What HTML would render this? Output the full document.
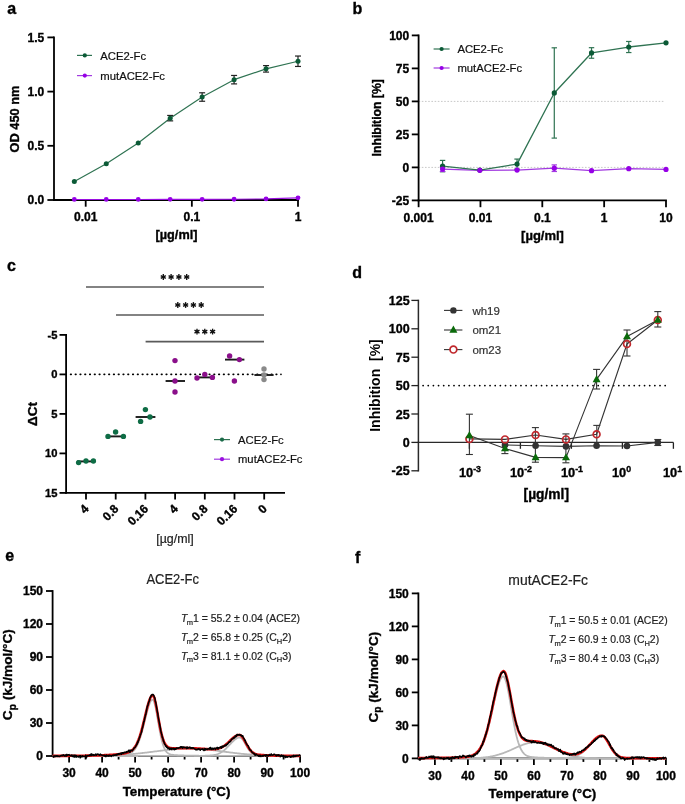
<!DOCTYPE html>
<html><head><meta charset="utf-8"><title>Figure</title>
<style>
html,body{margin:0;padding:0;background:#fff;overflow:hidden;}
svg{display:block;font-family:"Liberation Sans",sans-serif;filter:blur(0.3px);}
text[font-weight="bold"]{stroke:#000;stroke-width:0.35px;}
text[fill="#222"]{stroke:#222;stroke-width:0.2px;}
text[fill="#111"]{stroke:#111;stroke-width:0.2px;}
text[fill="#333"]{stroke:#333;stroke-width:0.2px;}
</style></head><body>
<svg width="685" height="804" viewBox="0 0 685 804">
<rect x="0" y="0" width="685" height="804" fill="#fff"/>
<text x="7.30" y="14.20" font-size="16" font-weight="bold" text-anchor="start" fill="#000"  style="">a</text>
<line x1="54.00" y1="36.50" x2="54.00" y2="200.90" stroke="#000" stroke-width="1.8" />
<line x1="53.10" y1="200.00" x2="298.90" y2="200.00" stroke="#000" stroke-width="1.8" />
<line x1="47.40" y1="37.40" x2="54.00" y2="37.40" stroke="#000" stroke-width="1.8" />
<text x="44.20" y="41.70" font-size="12" font-weight="bold" text-anchor="end" fill="#000"  style="">1.5</text>
<line x1="47.40" y1="91.60" x2="54.00" y2="91.60" stroke="#000" stroke-width="1.8" />
<text x="44.20" y="95.90" font-size="12" font-weight="bold" text-anchor="end" fill="#000"  style="">1.0</text>
<line x1="47.40" y1="145.80" x2="54.00" y2="145.80" stroke="#000" stroke-width="1.8" />
<text x="44.20" y="150.10" font-size="12" font-weight="bold" text-anchor="end" fill="#000"  style="">0.5</text>
<line x1="47.40" y1="200.00" x2="54.00" y2="200.00" stroke="#000" stroke-width="1.8" />
<text x="44.20" y="204.30" font-size="12" font-weight="bold" text-anchor="end" fill="#000"  style="">0.0</text>
<line x1="85.70" y1="200.00" x2="85.70" y2="206.70" stroke="#000" stroke-width="1.8" />
<text x="85.70" y="221.00" font-size="12" font-weight="bold" text-anchor="middle" fill="#000"  style="">0.01</text>
<line x1="191.85" y1="200.00" x2="191.85" y2="206.70" stroke="#000" stroke-width="1.8" />
<text x="191.85" y="221.00" font-size="12" font-weight="bold" text-anchor="middle" fill="#000"  style="">0.1</text>
<line x1="298.00" y1="200.00" x2="298.00" y2="206.70" stroke="#000" stroke-width="1.8" />
<text x="298.00" y="221.00" font-size="12" font-weight="bold" text-anchor="middle" fill="#000"  style="">1</text>
<text x="176.50" y="239.20" font-size="12.7" font-weight="bold" text-anchor="middle" fill="#000"  style="">[µg/ml]</text>
<text transform="translate(19.40,119.00) rotate(-90)" x="0" y="0" font-size="12.8" font-weight="bold" text-anchor="middle" fill="#000">OD 450 nm</text>
<polyline points="74.32,199.46 106.27,199.46 138.23,199.46 170.18,199.35 202.14,199.35 234.09,199.24 266.05,198.92 298.00,197.83" fill="none" stroke="#9a10e0" stroke-width="1.1" stroke-linejoin="round" />
<polyline points="74.32,181.57 106.27,163.69 138.23,143.09 170.18,118.16 202.14,97.02 234.09,79.68 266.05,68.84 298.00,61.25" fill="none" stroke="#2f7352" stroke-width="1.2" stroke-linejoin="round" />
<line x1="170.18" y1="115.45" x2="170.18" y2="120.87" stroke="#222" stroke-width="1.2" />
<line x1="167.18" y1="115.45" x2="173.18" y2="115.45" stroke="#222" stroke-width="1.2" />
<line x1="167.18" y1="120.87" x2="173.18" y2="120.87" stroke="#222" stroke-width="1.2" />
<line x1="202.14" y1="92.79" x2="202.14" y2="101.25" stroke="#222" stroke-width="1.2" />
<line x1="199.14" y1="92.79" x2="205.14" y2="92.79" stroke="#222" stroke-width="1.2" />
<line x1="199.14" y1="101.25" x2="205.14" y2="101.25" stroke="#222" stroke-width="1.2" />
<line x1="234.09" y1="75.45" x2="234.09" y2="83.90" stroke="#222" stroke-width="1.2" />
<line x1="231.09" y1="75.45" x2="237.09" y2="75.45" stroke="#222" stroke-width="1.2" />
<line x1="231.09" y1="83.90" x2="237.09" y2="83.90" stroke="#222" stroke-width="1.2" />
<line x1="266.05" y1="65.58" x2="266.05" y2="72.09" stroke="#222" stroke-width="1.2" />
<line x1="263.05" y1="65.58" x2="269.05" y2="65.58" stroke="#222" stroke-width="1.2" />
<line x1="263.05" y1="72.09" x2="269.05" y2="72.09" stroke="#222" stroke-width="1.2" />
<line x1="298.00" y1="56.04" x2="298.00" y2="66.45" stroke="#222" stroke-width="1.2" />
<line x1="295.00" y1="56.04" x2="301.00" y2="56.04" stroke="#222" stroke-width="1.2" />
<line x1="295.00" y1="66.45" x2="301.00" y2="66.45" stroke="#222" stroke-width="1.2" />
<circle cx="74.32" cy="181.57" r="2.5" fill="#0b5a36" stroke="none" stroke-width="0"/>
<circle cx="106.27" cy="163.69" r="2.5" fill="#0b5a36" stroke="none" stroke-width="0"/>
<circle cx="138.23" cy="143.09" r="2.5" fill="#0b5a36" stroke="none" stroke-width="0"/>
<circle cx="170.18" cy="118.16" r="2.5" fill="#0b5a36" stroke="none" stroke-width="0"/>
<circle cx="202.14" cy="97.02" r="2.5" fill="#0b5a36" stroke="none" stroke-width="0"/>
<circle cx="234.09" cy="79.68" r="2.5" fill="#0b5a36" stroke="none" stroke-width="0"/>
<circle cx="266.05" cy="68.84" r="2.5" fill="#0b5a36" stroke="none" stroke-width="0"/>
<circle cx="298.00" cy="61.25" r="2.5" fill="#0b5a36" stroke="none" stroke-width="0"/>
<circle cx="74.32" cy="199.46" r="2.4" fill="#9600e6" stroke="none" stroke-width="0"/>
<circle cx="106.27" cy="199.46" r="2.4" fill="#9600e6" stroke="none" stroke-width="0"/>
<circle cx="138.23" cy="199.46" r="2.4" fill="#9600e6" stroke="none" stroke-width="0"/>
<circle cx="170.18" cy="199.35" r="2.4" fill="#9600e6" stroke="none" stroke-width="0"/>
<circle cx="202.14" cy="199.35" r="2.4" fill="#9600e6" stroke="none" stroke-width="0"/>
<circle cx="234.09" cy="199.24" r="2.4" fill="#9600e6" stroke="none" stroke-width="0"/>
<circle cx="266.05" cy="198.92" r="2.4" fill="#9600e6" stroke="none" stroke-width="0"/>
<circle cx="298.00" cy="197.83" r="2.4" fill="#9600e6" stroke="none" stroke-width="0"/>
<line x1="77.00" y1="55.40" x2="92.00" y2="55.40" stroke="#2f7352" stroke-width="1.2" />
<circle cx="84.80" cy="55.40" r="2.1" fill="#0b5a36" stroke="none" stroke-width="0"/>
<text x="100.30" y="59.70" font-size="11.3" font-weight="normal" text-anchor="start" fill="#111"  style="">ACE2-Fc</text>
<line x1="77.00" y1="75.60" x2="92.00" y2="75.60" stroke="#a23be0" stroke-width="1.2" />
<circle cx="84.80" cy="75.60" r="2.1" fill="#9600e6" stroke="none" stroke-width="0"/>
<text x="100.30" y="79.90" font-size="11.3" font-weight="normal" text-anchor="start" fill="#111"  style="">mutACE2-Fc</text>
<text x="352.60" y="14.20" font-size="16" font-weight="bold" text-anchor="start" fill="#000"  style="">b</text>
<line x1="418.60" y1="101.40" x2="665.00" y2="101.40" stroke="#c8c8c8" stroke-width="1" stroke-dasharray="1.6,1.6"/>
<line x1="418.60" y1="167.40" x2="665.00" y2="167.40" stroke="#c8c8c8" stroke-width="1" stroke-dasharray="1.6,1.6"/>
<line x1="418.60" y1="34.50" x2="418.60" y2="201.30" stroke="#000" stroke-width="1.8" />
<line x1="417.70" y1="200.40" x2="666.90" y2="200.40" stroke="#000" stroke-width="1.8" />
<line x1="411.80" y1="35.40" x2="418.60" y2="35.40" stroke="#000" stroke-width="1.8" />
<text x="409.20" y="39.70" font-size="12" font-weight="bold" text-anchor="end" fill="#000"  style="">100</text>
<line x1="411.80" y1="68.40" x2="418.60" y2="68.40" stroke="#000" stroke-width="1.8" />
<text x="409.20" y="72.70" font-size="12" font-weight="bold" text-anchor="end" fill="#000"  style="">75</text>
<line x1="411.80" y1="101.40" x2="418.60" y2="101.40" stroke="#000" stroke-width="1.8" />
<text x="409.20" y="105.70" font-size="12" font-weight="bold" text-anchor="end" fill="#000"  style="">50</text>
<line x1="411.80" y1="134.40" x2="418.60" y2="134.40" stroke="#000" stroke-width="1.8" />
<text x="409.20" y="138.70" font-size="12" font-weight="bold" text-anchor="end" fill="#000"  style="">25</text>
<line x1="411.80" y1="167.40" x2="418.60" y2="167.40" stroke="#000" stroke-width="1.8" />
<text x="409.20" y="171.70" font-size="12" font-weight="bold" text-anchor="end" fill="#000"  style="">0</text>
<line x1="411.80" y1="200.40" x2="418.60" y2="200.40" stroke="#000" stroke-width="1.8" />
<text x="409.20" y="204.70" font-size="12" font-weight="bold" text-anchor="end" fill="#000"  style="">-25</text>
<line x1="418.60" y1="200.40" x2="418.60" y2="207.20" stroke="#000" stroke-width="1.8" />
<text x="418.60" y="221.50" font-size="12" font-weight="bold" text-anchor="middle" fill="#000"  style="">0.001</text>
<line x1="480.45" y1="200.40" x2="480.45" y2="207.20" stroke="#000" stroke-width="1.8" />
<text x="480.45" y="221.50" font-size="12" font-weight="bold" text-anchor="middle" fill="#000"  style="">0.01</text>
<line x1="542.30" y1="200.40" x2="542.30" y2="207.20" stroke="#000" stroke-width="1.8" />
<text x="542.30" y="221.50" font-size="12" font-weight="bold" text-anchor="middle" fill="#000"  style="">0.1</text>
<line x1="604.15" y1="200.40" x2="604.15" y2="207.20" stroke="#000" stroke-width="1.8" />
<text x="604.15" y="221.50" font-size="12" font-weight="bold" text-anchor="middle" fill="#000"  style="">1</text>
<line x1="666.00" y1="200.40" x2="666.00" y2="207.20" stroke="#000" stroke-width="1.8" />
<text x="666.00" y="221.50" font-size="12" font-weight="bold" text-anchor="middle" fill="#000"  style="">10</text>
<text x="542.50" y="240.00" font-size="13" font-weight="bold" text-anchor="middle" fill="#000"  style="">[µg/ml]</text>
<text transform="translate(380.70,117.80) rotate(-90)" x="0" y="0" font-size="12.2" font-weight="bold" text-anchor="middle" fill="#000">Inhibition [%]</text>
<polyline points="442.58,169.12 479.81,170.30 517.05,170.04 554.29,168.19 591.53,170.70 628.76,168.72 666.00,169.38" fill="none" stroke="#a23be0" stroke-width="1.3" stroke-linejoin="round" />
<polyline points="442.58,166.08 479.81,170.04 517.05,164.10 554.29,92.95 591.53,52.96 628.76,47.02 666.00,42.79" fill="none" stroke="#2f7352" stroke-width="1.3" stroke-linejoin="round" />
<line x1="442.58" y1="160.40" x2="442.58" y2="171.76" stroke="#2f7352" stroke-width="1.2" />
<line x1="439.88" y1="160.40" x2="445.28" y2="160.40" stroke="#2f7352" stroke-width="1.2" />
<line x1="439.88" y1="171.76" x2="445.28" y2="171.76" stroke="#2f7352" stroke-width="1.2" />
<line x1="517.05" y1="159.08" x2="517.05" y2="169.12" stroke="#2f7352" stroke-width="1.2" />
<line x1="514.35" y1="159.08" x2="519.75" y2="159.08" stroke="#2f7352" stroke-width="1.2" />
<line x1="514.35" y1="169.12" x2="519.75" y2="169.12" stroke="#2f7352" stroke-width="1.2" />
<line x1="554.29" y1="47.81" x2="554.29" y2="138.10" stroke="#2f7352" stroke-width="1.2" />
<line x1="551.59" y1="47.81" x2="556.99" y2="47.81" stroke="#2f7352" stroke-width="1.2" />
<line x1="551.59" y1="138.10" x2="556.99" y2="138.10" stroke="#2f7352" stroke-width="1.2" />
<line x1="591.53" y1="47.68" x2="591.53" y2="58.24" stroke="#2f7352" stroke-width="1.2" />
<line x1="588.83" y1="47.68" x2="594.23" y2="47.68" stroke="#2f7352" stroke-width="1.2" />
<line x1="588.83" y1="58.24" x2="594.23" y2="58.24" stroke="#2f7352" stroke-width="1.2" />
<line x1="628.76" y1="41.47" x2="628.76" y2="52.56" stroke="#2f7352" stroke-width="1.2" />
<line x1="626.06" y1="41.47" x2="631.46" y2="41.47" stroke="#2f7352" stroke-width="1.2" />
<line x1="626.06" y1="52.56" x2="631.46" y2="52.56" stroke="#2f7352" stroke-width="1.2" />
<line x1="442.58" y1="166.74" x2="442.58" y2="171.49" stroke="#a23be0" stroke-width="1.2" />
<line x1="439.88" y1="166.74" x2="445.28" y2="166.74" stroke="#a23be0" stroke-width="1.2" />
<line x1="439.88" y1="171.49" x2="445.28" y2="171.49" stroke="#a23be0" stroke-width="1.2" />
<line x1="554.29" y1="164.89" x2="554.29" y2="171.49" stroke="#a23be0" stroke-width="1.2" />
<line x1="551.59" y1="164.89" x2="556.99" y2="164.89" stroke="#a23be0" stroke-width="1.2" />
<line x1="551.59" y1="171.49" x2="556.99" y2="171.49" stroke="#a23be0" stroke-width="1.2" />
<circle cx="442.58" cy="166.08" r="2.6" fill="#0b5a36" stroke="none" stroke-width="0"/>
<circle cx="479.81" cy="170.04" r="2.6" fill="#0b5a36" stroke="none" stroke-width="0"/>
<circle cx="517.05" cy="164.10" r="2.6" fill="#0b5a36" stroke="none" stroke-width="0"/>
<circle cx="554.29" cy="92.95" r="2.6" fill="#0b5a36" stroke="none" stroke-width="0"/>
<circle cx="591.53" cy="52.96" r="2.6" fill="#0b5a36" stroke="none" stroke-width="0"/>
<circle cx="628.76" cy="47.02" r="2.6" fill="#0b5a36" stroke="none" stroke-width="0"/>
<circle cx="666.00" cy="42.79" r="2.6" fill="#0b5a36" stroke="none" stroke-width="0"/>
<circle cx="442.58" cy="169.12" r="2.6" fill="#9600e6" stroke="none" stroke-width="0"/>
<circle cx="479.81" cy="170.30" r="2.6" fill="#9600e6" stroke="none" stroke-width="0"/>
<circle cx="517.05" cy="170.04" r="2.6" fill="#9600e6" stroke="none" stroke-width="0"/>
<circle cx="554.29" cy="168.19" r="2.6" fill="#9600e6" stroke="none" stroke-width="0"/>
<circle cx="591.53" cy="170.70" r="2.6" fill="#9600e6" stroke="none" stroke-width="0"/>
<circle cx="628.76" cy="168.72" r="2.6" fill="#9600e6" stroke="none" stroke-width="0"/>
<circle cx="666.00" cy="169.38" r="2.6" fill="#9600e6" stroke="none" stroke-width="0"/>
<line x1="433.60" y1="49.00" x2="449.60" y2="49.00" stroke="#2f7352" stroke-width="1.2" />
<circle cx="441.60" cy="49.00" r="2.1" fill="#0b5a36" stroke="none" stroke-width="0"/>
<text x="457.40" y="53.10" font-size="11.3" font-weight="normal" text-anchor="start" fill="#111"  style="">ACE2-Fc</text>
<line x1="433.60" y1="68.00" x2="449.60" y2="68.00" stroke="#a23be0" stroke-width="1.2" />
<circle cx="441.60" cy="68.00" r="2.1" fill="#9600e6" stroke="none" stroke-width="0"/>
<text x="457.40" y="72.10" font-size="11.3" font-weight="normal" text-anchor="start" fill="#111"  style="">mutACE2-Fc</text>
<text x="7.00" y="271.00" font-size="16" font-weight="bold" text-anchor="start" fill="#000"  style="">c</text>
<line x1="70.60" y1="374.40" x2="281.00" y2="374.40" stroke="#000" stroke-width="1.6" stroke-dasharray="0.6,4.18" stroke-linecap="round"/>
<line x1="66.10" y1="334.00" x2="66.10" y2="493.80" stroke="#000" stroke-width="1.8" />
<line x1="65.20" y1="492.90" x2="285.00" y2="492.90" stroke="#000" stroke-width="1.8" />
<line x1="59.50" y1="334.90" x2="66.10" y2="334.90" stroke="#000" stroke-width="1.8" />
<text x="57.40" y="338.90" font-size="11.2" font-weight="bold" text-anchor="end" fill="#000"  style="">-5</text>
<line x1="59.50" y1="374.40" x2="66.10" y2="374.40" stroke="#000" stroke-width="1.8" />
<text x="57.40" y="378.40" font-size="11.2" font-weight="bold" text-anchor="end" fill="#000"  style="">0</text>
<line x1="59.50" y1="413.90" x2="66.10" y2="413.90" stroke="#000" stroke-width="1.8" />
<text x="57.40" y="417.90" font-size="11.2" font-weight="bold" text-anchor="end" fill="#000"  style="">5</text>
<line x1="59.50" y1="453.40" x2="66.10" y2="453.40" stroke="#000" stroke-width="1.8" />
<text x="57.40" y="457.40" font-size="11.2" font-weight="bold" text-anchor="end" fill="#000"  style="">10</text>
<line x1="59.50" y1="492.90" x2="66.10" y2="492.90" stroke="#000" stroke-width="1.8" />
<text x="57.40" y="496.90" font-size="11.2" font-weight="bold" text-anchor="end" fill="#000"  style="">15</text>
<line x1="86.00" y1="492.90" x2="86.00" y2="499.50" stroke="#000" stroke-width="1.8" />
<text transform="translate(89.60,509.60) rotate(-45)" font-size="12" font-weight="bold" text-anchor="end">4</text>
<line x1="115.70" y1="492.90" x2="115.70" y2="499.50" stroke="#000" stroke-width="1.8" />
<text transform="translate(119.30,509.60) rotate(-45)" font-size="12" font-weight="bold" text-anchor="end">0.8</text>
<line x1="145.40" y1="492.90" x2="145.40" y2="499.50" stroke="#000" stroke-width="1.8" />
<text transform="translate(149.00,509.60) rotate(-45)" font-size="12" font-weight="bold" text-anchor="end">0.16</text>
<line x1="175.10" y1="492.90" x2="175.10" y2="499.50" stroke="#000" stroke-width="1.8" />
<text transform="translate(178.70,509.60) rotate(-45)" font-size="12" font-weight="bold" text-anchor="end">4</text>
<line x1="204.80" y1="492.90" x2="204.80" y2="499.50" stroke="#000" stroke-width="1.8" />
<text transform="translate(208.40,509.60) rotate(-45)" font-size="12" font-weight="bold" text-anchor="end">0.8</text>
<line x1="234.50" y1="492.90" x2="234.50" y2="499.50" stroke="#000" stroke-width="1.8" />
<text transform="translate(238.10,509.60) rotate(-45)" font-size="12" font-weight="bold" text-anchor="end">0.16</text>
<line x1="264.20" y1="492.90" x2="264.20" y2="499.50" stroke="#000" stroke-width="1.8" />
<text transform="translate(267.80,509.60) rotate(-45)" font-size="12" font-weight="bold" text-anchor="end">0</text>
<text x="175.00" y="543.00" font-size="12.4" font-weight="normal" text-anchor="middle" fill="#222"  style="">[µg/ml]</text>
<text transform="translate(37.00,414.00) rotate(-90)" x="0" y="0" font-size="13.5" font-weight="bold" text-anchor="middle" fill="#000">ΔCt</text>
<line x1="86.00" y1="287.00" x2="264.00" y2="287.00" stroke="#5a5a5a" stroke-width="1.6" />
<line x1="163.30" y1="274.10" x2="163.30" y2="279.90" stroke="#111" stroke-width="1.35"/>
<line x1="160.79" y1="275.55" x2="165.81" y2="278.45" stroke="#111" stroke-width="1.35"/>
<line x1="165.81" y1="275.55" x2="160.79" y2="278.45" stroke="#111" stroke-width="1.35"/>
<circle cx="163.30" cy="277.00" r="1.3" fill="#111" stroke="none" stroke-width="0"/>
<line x1="171.10" y1="274.10" x2="171.10" y2="279.90" stroke="#111" stroke-width="1.35"/>
<line x1="168.59" y1="275.55" x2="173.61" y2="278.45" stroke="#111" stroke-width="1.35"/>
<line x1="173.61" y1="275.55" x2="168.59" y2="278.45" stroke="#111" stroke-width="1.35"/>
<circle cx="171.10" cy="277.00" r="1.3" fill="#111" stroke="none" stroke-width="0"/>
<line x1="178.90" y1="274.10" x2="178.90" y2="279.90" stroke="#111" stroke-width="1.35"/>
<line x1="176.39" y1="275.55" x2="181.41" y2="278.45" stroke="#111" stroke-width="1.35"/>
<line x1="181.41" y1="275.55" x2="176.39" y2="278.45" stroke="#111" stroke-width="1.35"/>
<circle cx="178.90" cy="277.00" r="1.3" fill="#111" stroke="none" stroke-width="0"/>
<line x1="186.70" y1="274.10" x2="186.70" y2="279.90" stroke="#111" stroke-width="1.35"/>
<line x1="184.19" y1="275.55" x2="189.21" y2="278.45" stroke="#111" stroke-width="1.35"/>
<line x1="189.21" y1="275.55" x2="184.19" y2="278.45" stroke="#111" stroke-width="1.35"/>
<circle cx="186.70" cy="277.00" r="1.3" fill="#111" stroke="none" stroke-width="0"/>
<line x1="116.00" y1="315.00" x2="264.00" y2="315.00" stroke="#5a5a5a" stroke-width="1.6" />
<line x1="177.80" y1="302.10" x2="177.80" y2="307.90" stroke="#111" stroke-width="1.35"/>
<line x1="175.29" y1="303.55" x2="180.31" y2="306.45" stroke="#111" stroke-width="1.35"/>
<line x1="180.31" y1="303.55" x2="175.29" y2="306.45" stroke="#111" stroke-width="1.35"/>
<circle cx="177.80" cy="305.00" r="1.3" fill="#111" stroke="none" stroke-width="0"/>
<line x1="185.60" y1="302.10" x2="185.60" y2="307.90" stroke="#111" stroke-width="1.35"/>
<line x1="183.09" y1="303.55" x2="188.11" y2="306.45" stroke="#111" stroke-width="1.35"/>
<line x1="188.11" y1="303.55" x2="183.09" y2="306.45" stroke="#111" stroke-width="1.35"/>
<circle cx="185.60" cy="305.00" r="1.3" fill="#111" stroke="none" stroke-width="0"/>
<line x1="193.40" y1="302.10" x2="193.40" y2="307.90" stroke="#111" stroke-width="1.35"/>
<line x1="190.89" y1="303.55" x2="195.91" y2="306.45" stroke="#111" stroke-width="1.35"/>
<line x1="195.91" y1="303.55" x2="190.89" y2="306.45" stroke="#111" stroke-width="1.35"/>
<circle cx="193.40" cy="305.00" r="1.3" fill="#111" stroke="none" stroke-width="0"/>
<line x1="201.20" y1="302.10" x2="201.20" y2="307.90" stroke="#111" stroke-width="1.35"/>
<line x1="198.69" y1="303.55" x2="203.71" y2="306.45" stroke="#111" stroke-width="1.35"/>
<line x1="203.71" y1="303.55" x2="198.69" y2="306.45" stroke="#111" stroke-width="1.35"/>
<circle cx="201.20" cy="305.00" r="1.3" fill="#111" stroke="none" stroke-width="0"/>
<line x1="145.60" y1="341.60" x2="264.00" y2="341.60" stroke="#5a5a5a" stroke-width="1.6" />
<line x1="197.00" y1="328.70" x2="197.00" y2="334.50" stroke="#111" stroke-width="1.35"/>
<line x1="194.49" y1="330.15" x2="199.51" y2="333.05" stroke="#111" stroke-width="1.35"/>
<line x1="199.51" y1="330.15" x2="194.49" y2="333.05" stroke="#111" stroke-width="1.35"/>
<circle cx="197.00" cy="331.60" r="1.3" fill="#111" stroke="none" stroke-width="0"/>
<line x1="204.80" y1="328.70" x2="204.80" y2="334.50" stroke="#111" stroke-width="1.35"/>
<line x1="202.29" y1="330.15" x2="207.31" y2="333.05" stroke="#111" stroke-width="1.35"/>
<line x1="207.31" y1="330.15" x2="202.29" y2="333.05" stroke="#111" stroke-width="1.35"/>
<circle cx="204.80" cy="331.60" r="1.3" fill="#111" stroke="none" stroke-width="0"/>
<line x1="212.60" y1="328.70" x2="212.60" y2="334.50" stroke="#111" stroke-width="1.35"/>
<line x1="210.09" y1="330.15" x2="215.11" y2="333.05" stroke="#111" stroke-width="1.35"/>
<line x1="215.11" y1="330.15" x2="210.09" y2="333.05" stroke="#111" stroke-width="1.35"/>
<circle cx="212.60" cy="331.60" r="1.3" fill="#111" stroke="none" stroke-width="0"/>
<line x1="77.00" y1="461.40" x2="95.00" y2="461.40" stroke="#1a1a1a" stroke-width="1.9" />
<circle cx="78.60" cy="462.60" r="2.7" fill="#0e6c45" stroke="none" stroke-width="0"/>
<circle cx="86.00" cy="461.00" r="2.7" fill="#0e6c45" stroke="none" stroke-width="0"/>
<circle cx="93.40" cy="461.00" r="2.7" fill="#0e6c45" stroke="none" stroke-width="0"/>
<line x1="106.00" y1="436.40" x2="125.00" y2="436.40" stroke="#1a1a1a" stroke-width="1.9" />
<circle cx="108.00" cy="436.40" r="2.7" fill="#0e6c45" stroke="none" stroke-width="0"/>
<circle cx="115.60" cy="432.00" r="2.7" fill="#0e6c45" stroke="none" stroke-width="0"/>
<circle cx="123.40" cy="436.40" r="2.7" fill="#0e6c45" stroke="none" stroke-width="0"/>
<line x1="135.60" y1="417.00" x2="155.40" y2="417.00" stroke="#1a1a1a" stroke-width="1.9" />
<circle cx="140.60" cy="421.40" r="2.7" fill="#0e6c45" stroke="none" stroke-width="0"/>
<circle cx="145.40" cy="409.60" r="2.7" fill="#0e6c45" stroke="none" stroke-width="0"/>
<circle cx="150.00" cy="417.00" r="2.7" fill="#0e6c45" stroke="none" stroke-width="0"/>
<line x1="165.60" y1="381.00" x2="185.00" y2="381.00" stroke="#1a1a1a" stroke-width="1.9" />
<circle cx="175.00" cy="360.60" r="2.7" fill="#8a0f8a" stroke="none" stroke-width="0"/>
<circle cx="175.00" cy="381.00" r="2.7" fill="#8a0f8a" stroke="none" stroke-width="0"/>
<circle cx="175.00" cy="392.00" r="2.7" fill="#8a0f8a" stroke="none" stroke-width="0"/>
<line x1="197.00" y1="377.40" x2="212.40" y2="377.40" stroke="#1a1a1a" stroke-width="1.9" />
<circle cx="197.00" cy="378.00" r="2.7" fill="#8a0f8a" stroke="none" stroke-width="0"/>
<circle cx="204.80" cy="374.40" r="2.7" fill="#8a0f8a" stroke="none" stroke-width="0"/>
<circle cx="212.40" cy="377.40" r="2.7" fill="#8a0f8a" stroke="none" stroke-width="0"/>
<line x1="225.00" y1="359.60" x2="244.40" y2="359.60" stroke="#1a1a1a" stroke-width="1.9" />
<circle cx="229.60" cy="356.00" r="2.7" fill="#8a0f8a" stroke="none" stroke-width="0"/>
<circle cx="239.40" cy="359.60" r="2.7" fill="#8a0f8a" stroke="none" stroke-width="0"/>
<circle cx="234.40" cy="381.00" r="2.7" fill="#8a0f8a" stroke="none" stroke-width="0"/>
<line x1="254.40" y1="375.00" x2="273.60" y2="375.00" stroke="#1a1a1a" stroke-width="1.9" />
<circle cx="264.00" cy="369.00" r="2.7" fill="#8a8a8a" stroke="none" stroke-width="0"/>
<circle cx="264.00" cy="375.00" r="2.7" fill="#8a8a8a" stroke="none" stroke-width="0"/>
<circle cx="264.00" cy="379.60" r="2.7" fill="#8a8a8a" stroke="none" stroke-width="0"/>
<line x1="214.00" y1="439.60" x2="230.00" y2="439.60" stroke="#2f7352" stroke-width="1.2" />
<circle cx="222.00" cy="439.60" r="2.1" fill="#1a6a48" stroke="none" stroke-width="0"/>
<text x="238.00" y="443.70" font-size="11.25" font-weight="normal" text-anchor="start" fill="#111"  style="">ACE2-Fc</text>
<line x1="214.00" y1="459.20" x2="230.00" y2="459.20" stroke="#a23be0" stroke-width="1.2" />
<circle cx="222.00" cy="459.20" r="2.1" fill="#9a10e0" stroke="none" stroke-width="0"/>
<text x="238.00" y="463.30" font-size="11.25" font-weight="normal" text-anchor="start" fill="#111"  style="">mutACE2-Fc</text>
<text x="352.20" y="278.00" font-size="16" font-weight="bold" text-anchor="start" fill="#000"  style="">d</text>
<line x1="423.10" y1="385.60" x2="670.00" y2="385.60" stroke="#000" stroke-width="1.8" stroke-dasharray="0.01,5.14" stroke-linecap="round"/>
<line x1="418.40" y1="299.70" x2="418.40" y2="471.50" stroke="#2a2a2a" stroke-width="1.5" />
<line x1="417.70" y1="442.40" x2="673.40" y2="442.40" stroke="#2a2a2a" stroke-width="1.4" />
<line x1="411.40" y1="300.40" x2="418.40" y2="300.40" stroke="#222" stroke-width="1.3" />
<text x="409.70" y="304.90" font-size="12.5" font-weight="bold" text-anchor="end" fill="#000"  style="">125</text>
<line x1="411.40" y1="328.80" x2="418.40" y2="328.80" stroke="#222" stroke-width="1.3" />
<text x="409.70" y="333.30" font-size="12.5" font-weight="bold" text-anchor="end" fill="#000"  style="">100</text>
<line x1="411.40" y1="357.20" x2="418.40" y2="357.20" stroke="#222" stroke-width="1.3" />
<text x="409.70" y="361.70" font-size="12.5" font-weight="bold" text-anchor="end" fill="#000"  style="">75</text>
<line x1="411.40" y1="385.60" x2="418.40" y2="385.60" stroke="#222" stroke-width="1.3" />
<text x="409.70" y="390.10" font-size="12.5" font-weight="bold" text-anchor="end" fill="#000"  style="">50</text>
<line x1="411.40" y1="414.00" x2="418.40" y2="414.00" stroke="#222" stroke-width="1.3" />
<text x="409.70" y="418.50" font-size="12.5" font-weight="bold" text-anchor="end" fill="#000"  style="">25</text>
<line x1="411.40" y1="442.40" x2="418.40" y2="442.40" stroke="#222" stroke-width="1.3" />
<text x="409.70" y="446.90" font-size="12.5" font-weight="bold" text-anchor="end" fill="#000"  style="">0</text>
<line x1="411.40" y1="470.80" x2="418.40" y2="470.80" stroke="#222" stroke-width="1.3" />
<text x="409.70" y="475.30" font-size="12.5" font-weight="bold" text-anchor="end" fill="#000"  style="">-25</text>
<line x1="469.40" y1="442.40" x2="469.40" y2="448.80" stroke="#222" stroke-width="1.3" />
<text x="458.90" y="477.2" font-size="12.8" font-weight="bold">10<tspan font-size="8.8" dy="-5.2">-3</tspan></text>
<line x1="520.40" y1="442.40" x2="520.40" y2="448.80" stroke="#222" stroke-width="1.3" />
<text x="509.90" y="477.2" font-size="12.8" font-weight="bold">10<tspan font-size="8.8" dy="-5.2">-2</tspan></text>
<line x1="571.40" y1="442.40" x2="571.40" y2="448.80" stroke="#222" stroke-width="1.3" />
<text x="560.90" y="477.2" font-size="12.8" font-weight="bold">10<tspan font-size="8.8" dy="-5.2">-1</tspan></text>
<line x1="622.40" y1="442.40" x2="622.40" y2="448.80" stroke="#222" stroke-width="1.3" />
<text x="611.90" y="477.2" font-size="12.8" font-weight="bold">10<tspan font-size="8.8" dy="-5.2">0</tspan></text>
<line x1="673.40" y1="442.40" x2="673.40" y2="448.80" stroke="#222" stroke-width="1.3" />
<text x="662.90" y="477.2" font-size="12.8" font-weight="bold">10<tspan font-size="8.8" dy="-5.2">1</tspan></text>
<text x="546.30" y="499.00" font-size="13.8" font-weight="bold" text-anchor="middle" fill="#000"  style="">[µg/ml]</text>
<text transform="translate(380.00,385.50) rotate(-90)" x="0" y="0" font-size="14" font-weight="bold" text-anchor="middle" fill="#000" style="stroke-width:0px">Inhibition&#160;&#160;[%]</text>
<polyline points="505.00,445.00 535.60,445.70 566.00,446.40 596.60,445.80 627.00,446.00 657.80,442.40" fill="none" stroke="#333" stroke-width="1.1" stroke-linejoin="round" />
<polyline points="469.40,435.40 505.00,448.60 535.60,457.40 566.00,457.60 596.60,379.40 627.00,336.60 657.80,320.00" fill="none" stroke="#333" stroke-width="1.1" stroke-linejoin="round" />
<polyline points="469.40,438.90 505.00,439.40 535.60,435.00 566.00,439.40 596.60,434.20 627.00,344.00 657.80,320.00" fill="none" stroke="#333" stroke-width="1.1" stroke-linejoin="round" />
<line x1="465.90" y1="414.20" x2="472.90" y2="414.20" stroke="#333" stroke-width="1.1" />
<line x1="465.90" y1="454.50" x2="472.90" y2="454.50" stroke="#333" stroke-width="1.1" />
<line x1="469.40" y1="414.20" x2="469.40" y2="454.50" stroke="#333" stroke-width="1.1" />
<line x1="501.40" y1="453.60" x2="508.40" y2="453.60" stroke="#333" stroke-width="1.1" />
<line x1="504.90" y1="445.00" x2="504.90" y2="453.60" stroke="#333" stroke-width="1.1" />
<line x1="531.90" y1="427.60" x2="538.90" y2="427.60" stroke="#333" stroke-width="1.1" />
<line x1="531.90" y1="462.20" x2="538.90" y2="462.20" stroke="#333" stroke-width="1.1" />
<line x1="535.40" y1="427.60" x2="535.40" y2="462.20" stroke="#333" stroke-width="1.1" />
<line x1="562.40" y1="433.90" x2="569.40" y2="433.90" stroke="#333" stroke-width="1.1" />
<line x1="562.40" y1="462.80" x2="569.40" y2="462.80" stroke="#333" stroke-width="1.1" />
<line x1="565.90" y1="433.90" x2="565.90" y2="462.80" stroke="#333" stroke-width="1.1" />
<line x1="593.30" y1="425.40" x2="600.30" y2="425.40" stroke="#333" stroke-width="1.1" />
<line x1="596.80" y1="425.40" x2="596.80" y2="445.00" stroke="#333" stroke-width="1.1" />
<line x1="593.10" y1="369.40" x2="600.10" y2="369.40" stroke="#333" stroke-width="1.1" />
<line x1="593.10" y1="389.00" x2="600.10" y2="389.00" stroke="#333" stroke-width="1.1" />
<line x1="596.60" y1="369.40" x2="596.60" y2="389.00" stroke="#333" stroke-width="1.1" />
<line x1="623.50" y1="330.00" x2="630.50" y2="330.00" stroke="#333" stroke-width="1.1" />
<line x1="623.50" y1="356.00" x2="630.50" y2="356.00" stroke="#333" stroke-width="1.1" />
<line x1="627.00" y1="330.00" x2="627.00" y2="356.00" stroke="#333" stroke-width="1.1" />
<line x1="654.30" y1="311.60" x2="661.30" y2="311.60" stroke="#333" stroke-width="1.1" />
<line x1="654.30" y1="327.00" x2="661.30" y2="327.00" stroke="#333" stroke-width="1.1" />
<line x1="657.80" y1="311.60" x2="657.80" y2="327.00" stroke="#333" stroke-width="1.1" />
<line x1="654.30" y1="439.50" x2="661.30" y2="439.50" stroke="#333" stroke-width="1.1" />
<line x1="654.30" y1="445.50" x2="661.30" y2="445.50" stroke="#333" stroke-width="1.1" />
<line x1="657.80" y1="439.50" x2="657.80" y2="445.50" stroke="#333" stroke-width="1.1" />
<circle cx="505.00" cy="445.00" r="3.3" fill="#333" stroke="none" stroke-width="0"/>
<circle cx="535.60" cy="445.70" r="3.3" fill="#333" stroke="none" stroke-width="0"/>
<circle cx="566.00" cy="446.40" r="3.3" fill="#333" stroke="none" stroke-width="0"/>
<circle cx="596.60" cy="445.80" r="3.3" fill="#333" stroke="none" stroke-width="0"/>
<circle cx="627.00" cy="446.00" r="3.3" fill="#333" stroke="none" stroke-width="0"/>
<circle cx="657.80" cy="442.40" r="3.3" fill="#333" stroke="none" stroke-width="0"/>
<circle cx="469.40" cy="438.90" r="3.4" fill="none" stroke="#c0282d" stroke-width="1.7"/>
<circle cx="505.00" cy="439.40" r="3.4" fill="none" stroke="#c0282d" stroke-width="1.7"/>
<circle cx="535.60" cy="435.00" r="3.4" fill="none" stroke="#c0282d" stroke-width="1.7"/>
<circle cx="566.00" cy="439.40" r="3.4" fill="none" stroke="#c0282d" stroke-width="1.7"/>
<circle cx="596.60" cy="434.20" r="3.4" fill="none" stroke="#c0282d" stroke-width="1.7"/>
<circle cx="627.00" cy="344.00" r="3.4" fill="none" stroke="#c0282d" stroke-width="1.7"/>
<circle cx="657.80" cy="320.00" r="3.4" fill="none" stroke="#c0282d" stroke-width="1.7"/>
<polygon points="469.40,430.94 465.40,438.14 473.40,438.14" fill="#0a6a0a"/>
<polygon points="505.00,444.14 501.00,451.34 509.00,451.34" fill="#0a6a0a"/>
<polygon points="535.60,452.94 531.60,460.14 539.60,460.14" fill="#0a6a0a"/>
<polygon points="566.00,453.14 562.00,460.34 570.00,460.34" fill="#0a6a0a"/>
<polygon points="596.60,374.94 592.60,382.14 600.60,382.14" fill="#0a6a0a"/>
<polygon points="627.00,332.14 623.00,339.34 631.00,339.34" fill="#0a6a0a"/>
<polygon points="657.80,315.54 653.80,322.74 661.80,322.74" fill="#0a6a0a"/>
<line x1="444.00" y1="310.40" x2="462.40" y2="310.40" stroke="#333" stroke-width="1.1" />
<circle cx="453.40" cy="310.40" r="3.2" fill="#333" stroke="none" stroke-width="0"/>
<text x="472.40" y="314.60" font-size="11.5" font-weight="normal" text-anchor="start" fill="#333"  style="">wh19</text>
<line x1="444.00" y1="330.00" x2="462.40" y2="330.00" stroke="#333" stroke-width="1.1" />
<polygon points="453.40,325.54 449.40,332.74 457.40,332.74" fill="#0a6a0a"/>
<text x="472.40" y="334.20" font-size="11.5" font-weight="normal" text-anchor="start" fill="#333"  style="">om21</text>
<line x1="444.00" y1="349.60" x2="462.40" y2="349.60" stroke="#333" stroke-width="1.1" />
<circle cx="453.40" cy="349.60" r="3.4" fill="#fff" stroke="#c0282d" stroke-width="1.7"/>
<text x="472.40" y="353.80" font-size="11.5" font-weight="normal" text-anchor="start" fill="#333"  style="">om23</text>
<text x="5.20" y="561.00" font-size="16" font-weight="bold" text-anchor="start" fill="#000"  style="">e</text>
<text x="146.40" y="584.40" font-size="14.5" fill="#222" textLength="52.6" lengthAdjust="spacingAndGlyphs">ACE2-Fc</text>
<line x1="52.60" y1="590.10" x2="52.60" y2="756.90" stroke="#000" stroke-width="1.8" />
<line x1="51.70" y1="756.00" x2="301.00" y2="756.00" stroke="#000" stroke-width="1.8" />
<line x1="46.00" y1="756.00" x2="52.60" y2="756.00" stroke="#000" stroke-width="1.8" />
<text x="43.00" y="760.30" font-size="12" font-weight="bold" text-anchor="end" fill="#000"  style="">0</text>
<line x1="46.00" y1="723.00" x2="52.60" y2="723.00" stroke="#000" stroke-width="1.8" />
<text x="43.00" y="727.30" font-size="12" font-weight="bold" text-anchor="end" fill="#000"  style="">30</text>
<line x1="46.00" y1="690.00" x2="52.60" y2="690.00" stroke="#000" stroke-width="1.8" />
<text x="43.00" y="694.30" font-size="12" font-weight="bold" text-anchor="end" fill="#000"  style="">60</text>
<line x1="46.00" y1="657.00" x2="52.60" y2="657.00" stroke="#000" stroke-width="1.8" />
<text x="43.00" y="661.30" font-size="12" font-weight="bold" text-anchor="end" fill="#000"  style="">90</text>
<line x1="46.00" y1="624.00" x2="52.60" y2="624.00" stroke="#000" stroke-width="1.8" />
<text x="43.00" y="628.30" font-size="12" font-weight="bold" text-anchor="end" fill="#000"  style="">120</text>
<line x1="46.00" y1="591.00" x2="52.60" y2="591.00" stroke="#000" stroke-width="1.8" />
<text x="43.00" y="595.30" font-size="12" font-weight="bold" text-anchor="end" fill="#000"  style="">150</text>
<line x1="69.10" y1="756.00" x2="69.10" y2="762.50" stroke="#000" stroke-width="1.8" />
<text x="69.10" y="777.40" font-size="12" font-weight="bold" text-anchor="middle" fill="#000"  style="">30</text>
<line x1="85.60" y1="756.00" x2="85.60" y2="759.50" stroke="#000" stroke-width="1.8" />
<line x1="102.10" y1="756.00" x2="102.10" y2="762.50" stroke="#000" stroke-width="1.8" />
<text x="102.10" y="777.40" font-size="12" font-weight="bold" text-anchor="middle" fill="#000"  style="">40</text>
<line x1="118.60" y1="756.00" x2="118.60" y2="759.50" stroke="#000" stroke-width="1.8" />
<line x1="135.10" y1="756.00" x2="135.10" y2="762.50" stroke="#000" stroke-width="1.8" />
<text x="135.10" y="777.40" font-size="12" font-weight="bold" text-anchor="middle" fill="#000"  style="">50</text>
<line x1="151.60" y1="756.00" x2="151.60" y2="759.50" stroke="#000" stroke-width="1.8" />
<line x1="168.10" y1="756.00" x2="168.10" y2="762.50" stroke="#000" stroke-width="1.8" />
<text x="168.10" y="777.40" font-size="12" font-weight="bold" text-anchor="middle" fill="#000"  style="">60</text>
<line x1="184.60" y1="756.00" x2="184.60" y2="759.50" stroke="#000" stroke-width="1.8" />
<line x1="201.10" y1="756.00" x2="201.10" y2="762.50" stroke="#000" stroke-width="1.8" />
<text x="201.10" y="777.40" font-size="12" font-weight="bold" text-anchor="middle" fill="#000"  style="">70</text>
<line x1="217.60" y1="756.00" x2="217.60" y2="759.50" stroke="#000" stroke-width="1.8" />
<line x1="234.10" y1="756.00" x2="234.10" y2="762.50" stroke="#000" stroke-width="1.8" />
<text x="234.10" y="777.40" font-size="12" font-weight="bold" text-anchor="middle" fill="#000"  style="">80</text>
<line x1="250.60" y1="756.00" x2="250.60" y2="759.50" stroke="#000" stroke-width="1.8" />
<line x1="267.10" y1="756.00" x2="267.10" y2="762.50" stroke="#000" stroke-width="1.8" />
<text x="267.10" y="777.40" font-size="12" font-weight="bold" text-anchor="middle" fill="#000"  style="">90</text>
<line x1="283.60" y1="756.00" x2="283.60" y2="759.50" stroke="#000" stroke-width="1.8" />
<line x1="300.10" y1="756.00" x2="300.10" y2="762.50" stroke="#000" stroke-width="1.8" />
<text x="300.10" y="777.40" font-size="12" font-weight="bold" text-anchor="middle" fill="#000"  style="">100</text>
<text x="176.60" y="795.60" font-size="13.4" font-weight="bold" text-anchor="middle" fill="#000"  style="">Temperature (°C)</text>
<text transform="translate(12.40,720.20) rotate(-90)" font-size="13.6" font-weight="bold" text-anchor="start">C<tspan font-size="10.2" dy="3.2">p</tspan><tspan dy="-3.2"> (kJ/mol/°C)</tspan></text>
<polyline points="52.60,755.90 53.43,755.90 54.25,755.89 55.08,755.89 55.90,755.89 56.73,755.89 57.55,755.89 58.38,755.88 59.20,755.88 60.02,755.88 60.85,755.88 61.67,755.88 62.50,755.87 63.33,755.87 64.15,755.87 64.97,755.87 65.80,755.86 66.62,755.86 67.45,755.86 68.28,755.86 69.10,755.85 69.92,755.85 70.75,755.85 71.58,755.84 72.40,755.84 73.22,755.84 74.05,755.83 74.88,755.83 75.70,755.83 76.53,755.82 77.35,755.82 78.17,755.82 79.00,755.81 79.83,755.81 80.65,755.80 81.47,755.80 82.30,755.79 83.12,755.79 83.95,755.78 84.78,755.78 85.60,755.77 86.42,755.77 87.25,755.76 88.08,755.76 88.90,755.75 89.72,755.74 90.55,755.74 91.38,755.73 92.20,755.72 93.03,755.72 93.85,755.71 94.67,755.70 95.50,755.69 96.32,755.68 97.15,755.67 97.97,755.66 98.80,755.65 99.62,755.64 100.45,755.63 101.28,755.62 102.10,755.61 102.92,755.60 103.75,755.58 104.57,755.57 105.40,755.55 106.22,755.54 107.05,755.52 107.88,755.51 108.70,755.49 109.53,755.47 110.35,755.45 111.17,755.43 112.00,755.41 112.82,755.38 113.65,755.36 114.47,755.33 115.30,755.30 116.12,755.27 116.95,755.24 117.78,755.20 118.60,755.16 119.43,755.12 120.25,755.07 121.07,755.02 121.90,754.96 122.72,754.90 123.55,754.82 124.38,754.73 125.20,754.62 126.03,754.49 126.85,754.33 127.68,754.14 128.50,753.90 129.32,753.62 130.15,753.26 130.97,752.83 131.80,752.31 132.62,751.68 133.45,750.92 134.28,750.01 135.10,748.94 135.92,747.68 136.75,746.22 137.57,744.54 138.40,742.64 139.22,740.49 140.05,738.11 140.88,735.50 141.70,732.68 142.53,729.67 143.35,726.50 144.17,723.22 145.00,719.88 145.82,716.55 146.65,713.29 147.47,710.19 148.30,707.33 149.12,704.80 149.95,702.69 150.78,701.07 151.60,700.02 152.42,699.58 153.25,699.99 154.07,701.67 154.90,704.48 155.72,708.18 156.55,712.53 157.38,717.24 158.20,722.09 159.03,726.86 159.85,731.38 160.67,735.53 161.50,739.24 162.32,742.45 163.15,745.17 163.97,747.42 164.80,749.24 165.62,750.67 166.45,751.79 167.28,752.64 168.10,753.29 168.92,753.77 169.75,754.13 170.57,754.40 171.40,754.60 172.22,754.76 173.05,754.88 173.88,754.98 174.70,755.06 175.53,755.13 176.35,755.19 177.17,755.24 178.00,755.29 178.82,755.33 179.65,755.37 180.47,755.40 181.30,755.43 182.12,755.46 182.95,755.49 183.77,755.52 184.60,755.54 185.42,755.56 186.25,755.58 187.07,755.60 187.90,755.62 188.72,755.64 189.55,755.65 190.38,755.67 191.20,755.68 192.02,755.69 192.85,755.70 193.67,755.72 194.50,755.73 195.32,755.74 196.15,755.75 196.97,755.76 197.80,755.76 198.62,755.77 199.45,755.78 200.27,755.79 201.10,755.79 201.92,755.80 202.75,755.81 203.57,755.81 204.40,755.82 205.22,755.83 206.05,755.83 206.88,755.84 207.70,755.84 208.52,755.85 209.35,755.85 210.17,755.85 211.00,755.86 211.82,755.86 212.65,755.87 213.47,755.87 214.30,755.87 215.12,755.88 215.95,755.88 216.77,755.88 217.60,755.88 218.42,755.89 219.25,755.89 220.07,755.89 220.90,755.90 221.72,755.90 222.55,755.90 223.37,755.90 224.20,755.90 225.02,755.91 225.85,755.91 226.67,755.91 227.50,755.91 228.32,755.91 229.15,755.92 229.97,755.92 230.80,755.92 231.62,755.92 232.45,755.92 233.27,755.92 234.10,755.93 234.92,755.93 235.75,755.93 236.57,755.93 237.40,755.93 238.22,755.93 239.05,755.93 239.87,755.94 240.70,755.94 241.52,755.94 242.35,755.94 243.17,755.94 244.00,755.94 244.82,755.94 245.65,755.94 246.47,755.94 247.30,755.95 248.12,755.95 248.95,755.95 249.77,755.95 250.60,755.95 251.42,755.95 252.25,755.95 253.07,755.95 253.90,755.95 254.72,755.95 255.55,755.95 256.38,755.95 257.20,755.96 258.02,755.96 258.85,755.96 259.68,755.96 260.50,755.96 261.32,755.96 262.15,755.96 262.98,755.96 263.80,755.96 264.62,755.96 265.45,755.96 266.27,755.96 267.10,755.96 267.93,755.96 268.75,755.96 269.57,755.96 270.40,755.96 271.23,755.97 272.05,755.97 272.88,755.97 273.70,755.97 274.52,755.97 275.35,755.97 276.18,755.97 277.00,755.97 277.82,755.97 278.65,755.97 279.48,755.97 280.30,755.97 281.12,755.97 281.95,755.97 282.77,755.97 283.60,755.97 284.43,755.97 285.25,755.97 286.07,755.97 286.90,755.97 287.73,755.97 288.55,755.97 289.38,755.97 290.20,755.97 291.02,755.97 291.85,755.97 292.68,755.98 293.50,755.98 294.32,755.98 295.15,755.98 295.98,755.98 296.80,755.98 297.62,755.98 298.45,755.98 299.27,755.98 300.10,755.98" fill="none" stroke="#b8b8b8" stroke-width="1.8" stroke-linejoin="round" />
<polyline points="52.60,756.00 53.43,756.00 54.25,756.00 55.08,756.00 55.90,755.99 56.73,755.99 57.55,755.99 58.38,755.99 59.20,755.99 60.02,755.99 60.85,755.99 61.67,755.99 62.50,755.99 63.33,755.99 64.15,755.99 64.97,755.99 65.80,755.99 66.62,755.98 67.45,755.98 68.28,755.98 69.10,755.98 69.92,755.98 70.75,755.98 71.58,755.97 72.40,755.97 73.22,755.97 74.05,755.97 74.88,755.97 75.70,755.96 76.53,755.96 77.35,755.96 78.17,755.95 79.00,755.95 79.83,755.95 80.65,755.94 81.47,755.94 82.30,755.93 83.12,755.93 83.95,755.92 84.78,755.92 85.60,755.91 86.42,755.90 87.25,755.90 88.08,755.89 88.90,755.88 89.72,755.87 90.55,755.86 91.38,755.85 92.20,755.84 93.03,755.83 93.85,755.82 94.67,755.81 95.50,755.80 96.32,755.79 97.15,755.77 97.97,755.76 98.80,755.74 99.62,755.73 100.45,755.71 101.28,755.69 102.10,755.67 102.92,755.65 103.75,755.63 104.57,755.61 105.40,755.59 106.22,755.56 107.05,755.54 107.88,755.51 108.70,755.49 109.53,755.46 110.35,755.43 111.17,755.40 112.00,755.36 112.82,755.33 113.65,755.29 114.47,755.26 115.30,755.22 116.12,755.18 116.95,755.14 117.78,755.10 118.60,755.05 119.43,755.01 120.25,754.96 121.07,754.91 121.90,754.86 122.72,754.80 123.55,754.75 124.38,754.69 125.20,754.64 126.03,754.58 126.85,754.51 127.68,754.45 128.50,754.39 129.32,754.32 130.15,754.25 130.97,754.18 131.80,754.11 132.62,754.03 133.45,753.95 134.28,753.88 135.10,753.80 135.92,753.72 136.75,753.63 137.57,753.55 138.40,753.46 139.22,753.37 140.05,753.28 140.88,753.19 141.70,753.10 142.53,753.01 143.35,752.91 144.17,752.81 145.00,752.72 145.82,752.62 146.65,752.52 147.47,752.42 148.30,752.31 149.12,752.21 149.95,752.11 150.78,752.01 151.60,751.90 152.42,751.80 153.25,751.69 154.07,751.59 154.90,751.48 155.72,751.38 156.55,751.27 157.38,751.17 158.20,751.06 159.03,750.96 159.85,750.85 160.67,750.75 161.50,750.65 162.32,750.55 163.15,750.45 163.97,750.35 164.80,750.26 165.62,750.16 166.45,750.07 167.28,749.98 168.10,749.89 168.92,749.80 169.75,749.72 170.57,749.64 171.40,749.56 172.22,749.48 173.05,749.40 173.88,749.33 174.70,749.26 175.53,749.20 176.35,749.13 177.17,749.08 178.00,749.02 178.82,748.97 179.65,748.92 180.47,748.87 181.30,748.83 182.12,748.79 182.95,748.76 183.77,748.73 184.60,748.70 185.42,748.68 186.25,748.66 187.07,748.65 187.90,748.64 188.72,748.63 189.55,748.63 190.38,748.63 191.20,748.64 192.02,748.65 192.85,748.67 193.67,748.69 194.50,748.71 195.32,748.74 196.15,748.77 196.97,748.81 197.80,748.85 198.62,748.89 199.45,748.94 200.27,749.00 201.10,749.05 201.92,749.11 202.75,749.18 203.57,749.24 204.40,749.31 205.22,749.39 206.05,749.47 206.88,749.55 207.70,749.63 208.52,749.71 209.35,749.80 210.17,749.89 211.00,749.99 211.82,750.08 212.65,750.18 213.47,750.28 214.30,750.38 215.12,750.48 215.95,750.58 216.77,750.69 217.60,750.79 218.42,750.90 219.25,751.01 220.07,751.12 220.90,751.23 221.72,751.34 222.55,751.45 223.37,751.56 224.20,751.66 225.02,751.77 225.85,751.88 226.67,751.99 227.50,752.10 228.32,752.21 229.15,752.31 229.97,752.42 230.80,752.53 231.62,752.63 232.45,752.73 233.27,752.83 234.10,752.93 234.92,753.03 235.75,753.13 236.57,753.23 237.40,753.32 238.22,753.41 239.05,753.50 239.87,753.59 240.70,753.68 241.52,753.77 242.35,753.85 243.17,753.93 244.00,754.01 244.82,754.09 245.65,754.17 246.47,754.24 247.30,754.31 248.12,754.38 248.95,754.45 249.77,754.52 250.60,754.58 251.42,754.64 252.25,754.70 253.07,754.76 253.90,754.82 254.72,754.87 255.55,754.93 256.38,754.98 257.20,755.03 258.02,755.07 258.85,755.12 259.68,755.16 260.50,755.20 261.32,755.24 262.15,755.28 262.98,755.32 263.80,755.36 264.62,755.39 265.45,755.42 266.27,755.45 267.10,755.48 267.93,755.51 268.75,755.54 269.57,755.57 270.40,755.59 271.23,755.61 272.05,755.64 272.88,755.66 273.70,755.68 274.52,755.70 275.35,755.72 276.18,755.73 277.00,755.75 277.82,755.76 278.65,755.78 279.48,755.79 280.30,755.81 281.12,755.82 281.95,755.83 282.77,755.84 283.60,755.85 284.43,755.86 285.25,755.87 286.07,755.88 286.90,755.89 287.73,755.90 288.55,755.90 289.38,755.91 290.20,755.92 291.02,755.92 291.85,755.93 292.68,755.93 293.50,755.94 294.32,755.94 295.15,755.95 295.98,755.95 296.80,755.95 297.62,755.96 298.45,755.96 299.27,755.96 300.10,755.97" fill="none" stroke="#b8b8b8" stroke-width="1.8" stroke-linejoin="round" />
<polyline points="52.60,755.99 53.43,755.99 54.25,755.99 55.08,755.99 55.90,755.99 56.73,755.99 57.55,755.99 58.38,755.99 59.20,755.99 60.02,755.99 60.85,755.99 61.67,755.99 62.50,755.99 63.33,755.99 64.15,755.99 64.97,755.99 65.80,755.99 66.62,755.99 67.45,755.99 68.28,755.99 69.10,755.99 69.92,755.99 70.75,755.99 71.58,755.99 72.40,755.99 73.22,755.99 74.05,755.99 74.88,755.99 75.70,755.99 76.53,755.99 77.35,755.99 78.17,755.99 79.00,755.99 79.83,755.99 80.65,755.99 81.47,755.99 82.30,755.99 83.12,755.99 83.95,755.99 84.78,755.99 85.60,755.99 86.42,755.99 87.25,755.99 88.08,755.99 88.90,755.99 89.72,755.99 90.55,755.99 91.38,755.99 92.20,755.99 93.03,755.99 93.85,755.99 94.67,755.99 95.50,755.99 96.32,755.99 97.15,755.99 97.97,755.99 98.80,755.99 99.62,755.99 100.45,755.99 101.28,755.99 102.10,755.99 102.92,755.99 103.75,755.99 104.57,755.99 105.40,755.99 106.22,755.99 107.05,755.99 107.88,755.99 108.70,755.98 109.53,755.98 110.35,755.98 111.17,755.98 112.00,755.98 112.82,755.98 113.65,755.98 114.47,755.98 115.30,755.98 116.12,755.98 116.95,755.98 117.78,755.98 118.60,755.98 119.43,755.98 120.25,755.98 121.07,755.98 121.90,755.98 122.72,755.98 123.55,755.98 124.38,755.98 125.20,755.98 126.03,755.98 126.85,755.98 127.68,755.98 128.50,755.98 129.32,755.98 130.15,755.98 130.97,755.98 131.80,755.98 132.62,755.98 133.45,755.98 134.28,755.98 135.10,755.98 135.92,755.98 136.75,755.98 137.57,755.98 138.40,755.97 139.22,755.97 140.05,755.97 140.88,755.97 141.70,755.97 142.53,755.97 143.35,755.97 144.17,755.97 145.00,755.97 145.82,755.97 146.65,755.97 147.47,755.97 148.30,755.97 149.12,755.97 149.95,755.97 150.78,755.97 151.60,755.97 152.42,755.97 153.25,755.97 154.07,755.97 154.90,755.96 155.72,755.96 156.55,755.96 157.38,755.96 158.20,755.96 159.03,755.96 159.85,755.96 160.67,755.96 161.50,755.96 162.32,755.96 163.15,755.96 163.97,755.96 164.80,755.95 165.62,755.95 166.45,755.95 167.28,755.95 168.10,755.95 168.92,755.95 169.75,755.95 170.57,755.95 171.40,755.95 172.22,755.94 173.05,755.94 173.88,755.94 174.70,755.94 175.53,755.94 176.35,755.94 177.17,755.94 178.00,755.93 178.82,755.93 179.65,755.93 180.47,755.93 181.30,755.93 182.12,755.92 182.95,755.92 183.77,755.92 184.60,755.92 185.42,755.92 186.25,755.91 187.07,755.91 187.90,755.91 188.72,755.90 189.55,755.90 190.38,755.90 191.20,755.90 192.02,755.89 192.85,755.89 193.67,755.88 194.50,755.88 195.32,755.88 196.15,755.87 196.97,755.87 197.80,755.86 198.62,755.85 199.45,755.85 200.27,755.84 201.10,755.83 201.92,755.82 202.75,755.81 203.57,755.79 204.40,755.78 205.22,755.76 206.05,755.73 206.88,755.70 207.70,755.67 208.52,755.63 209.35,755.57 210.17,755.51 211.00,755.44 211.82,755.35 212.65,755.25 213.47,755.12 214.30,754.97 215.12,754.80 215.95,754.59 216.77,754.35 217.60,754.08 218.42,753.76 219.25,753.41 220.07,753.00 220.90,752.55 221.72,752.04 222.55,751.48 223.37,750.87 224.20,750.21 225.02,749.50 225.85,748.74 226.67,747.94 227.50,747.10 228.32,746.24 229.15,745.35 229.97,744.45 230.80,743.55 231.62,742.67 232.45,741.82 233.27,741.00 234.10,740.24 234.92,739.55 235.75,738.94 236.57,738.42 237.40,738.02 238.22,737.73 239.05,737.56 239.87,737.53 240.70,737.77 241.52,738.33 242.35,739.19 243.17,740.29 244.00,741.57 244.82,742.97 245.65,744.44 246.47,745.90 247.30,747.32 248.12,748.66 248.95,749.88 249.77,750.98 250.60,751.93 251.42,752.75 252.25,753.43 253.07,753.99 253.90,754.44 254.72,754.79 255.55,755.07 256.38,755.27 257.20,755.43 258.02,755.55 258.85,755.63 259.68,755.70 260.50,755.74 261.32,755.78 262.15,755.80 262.98,755.82 263.80,755.84 264.62,755.85 265.45,755.86 266.27,755.87 267.10,755.88 267.93,755.88 268.75,755.89 269.57,755.90 270.40,755.90 271.23,755.91 272.05,755.91 272.88,755.92 273.70,755.92 274.52,755.92 275.35,755.93 276.18,755.93 277.00,755.93 277.82,755.94 278.65,755.94 279.48,755.94 280.30,755.94 281.12,755.94 281.95,755.95 282.77,755.95 283.60,755.95 284.43,755.95 285.25,755.95 286.07,755.96 286.90,755.96 287.73,755.96 288.55,755.96 289.38,755.96 290.20,755.96 291.02,755.96 291.85,755.96 292.68,755.97 293.50,755.97 294.32,755.97 295.15,755.97 295.98,755.97 296.80,755.97 297.62,755.97 298.45,755.97 299.27,755.97 300.10,755.97" fill="none" stroke="#b8b8b8" stroke-width="1.8" stroke-linejoin="round" />
<polyline points="52.60,755.89 53.43,755.88 54.25,755.88 55.08,755.88 55.90,755.88 56.73,755.88 57.55,755.87 58.38,755.87 59.20,755.87 60.02,755.86 60.85,755.86 61.67,755.86 62.50,755.86 63.33,755.85 64.15,755.85 64.97,755.85 65.80,755.84 66.62,755.84 67.45,755.83 68.28,755.83 69.10,755.82 69.92,755.82 70.75,755.82 71.58,755.81 72.40,755.80 73.22,755.80 74.05,755.79 74.88,755.79 75.70,755.78 76.53,755.77 77.35,755.77 78.17,755.76 79.00,755.75 79.83,755.74 80.65,755.73 81.47,755.73 82.30,755.72 83.12,755.71 83.95,755.70 84.78,755.68 85.60,755.67 86.42,755.66 87.25,755.65 88.08,755.63 88.90,755.62 89.72,755.61 90.55,755.59 91.38,755.57 92.20,755.56 93.03,755.54 93.85,755.52 94.67,755.50 95.50,755.48 96.32,755.46 97.15,755.43 97.97,755.41 98.80,755.38 99.62,755.36 100.45,755.33 101.28,755.30 102.10,755.27 102.92,755.24 103.75,755.20 104.57,755.17 105.40,755.13 106.22,755.09 107.05,755.05 107.88,755.00 108.70,754.96 109.53,754.91 110.35,754.86 111.17,754.81 112.00,754.75 112.82,754.70 113.65,754.64 114.47,754.57 115.30,754.50 116.12,754.43 116.95,754.36 117.78,754.28 118.60,754.20 119.43,754.11 120.25,754.01 121.07,753.91 121.90,753.80 122.72,753.68 123.55,753.55 124.38,753.40 125.20,753.23 126.03,753.04 126.85,752.82 127.68,752.57 128.50,752.27 129.32,751.91 130.15,751.49 130.97,750.99 131.80,750.40 132.62,749.69 133.45,748.85 134.28,747.87 135.10,746.71 135.92,745.37 136.75,743.83 137.57,742.07 138.40,740.07 139.22,737.84 140.05,735.37 140.88,732.67 141.70,729.75 142.53,726.65 143.35,723.38 144.17,720.01 145.00,716.57 145.82,713.13 146.65,709.78 147.47,706.57 148.30,703.61 149.12,700.98 149.95,698.76 150.78,697.05 151.60,695.89 152.42,695.35 153.25,695.65 154.07,697.22 154.90,699.92 155.72,703.52 156.55,707.76 157.38,712.37 158.20,717.11 159.03,721.77 159.85,726.19 160.67,730.24 161.50,733.85 162.32,736.96 163.15,739.58 163.97,741.73 164.80,743.45 165.62,744.79 166.45,745.81 167.28,746.57 168.10,747.13 168.92,747.52 169.75,747.79 170.57,747.98 171.40,748.10 172.22,748.18 173.05,748.23 173.88,748.25 174.70,748.26 175.53,748.26 176.35,748.26 177.17,748.25 178.00,748.24 178.82,748.23 179.65,748.21 180.47,748.20 181.30,748.19 182.12,748.18 182.95,748.17 183.77,748.17 184.60,748.16 185.42,748.16 186.25,748.16 187.07,748.16 187.90,748.16 188.72,748.17 189.55,748.18 190.38,748.20 191.20,748.21 192.02,748.23 192.85,748.26 193.67,748.29 194.50,748.32 195.32,748.35 196.15,748.39 196.97,748.43 197.80,748.47 198.62,748.52 199.45,748.57 200.27,748.62 201.10,748.68 201.92,748.73 202.75,748.79 203.57,748.85 204.40,748.91 205.22,748.97 206.05,749.03 206.88,749.08 207.70,749.14 208.52,749.18 209.35,749.23 210.17,749.26 211.00,749.28 211.82,749.29 212.65,749.29 213.47,749.27 214.30,749.22 215.12,749.15 215.95,749.05 216.77,748.92 217.60,748.76 218.42,748.55 219.25,748.31 220.07,748.01 220.90,747.67 221.72,747.28 222.55,746.83 223.37,746.33 224.20,745.78 225.02,745.18 225.85,744.53 226.67,743.84 227.50,743.12 228.32,742.36 229.15,741.58 229.97,740.79 230.80,740.00 231.62,739.22 232.45,738.47 233.27,737.76 234.10,737.10 234.92,736.51 235.75,736.00 236.57,735.58 237.40,735.27 238.22,735.07 239.05,735.00 239.87,735.06 240.70,735.38 241.52,736.04 242.35,736.98 243.17,738.16 244.00,739.53 244.82,741.01 245.65,742.54 246.47,744.08 247.30,745.58 248.12,746.99 248.95,748.28 249.77,749.44 250.60,750.46 251.42,751.34 252.25,752.09 253.07,752.70 253.90,753.21 254.72,753.62 255.55,753.94 256.38,754.20 257.20,754.41 258.02,754.58 258.85,754.71 259.68,754.81 260.50,754.90 261.32,754.98 262.15,755.04 262.98,755.10 263.80,755.15 264.62,755.20 265.45,755.24 266.27,755.29 267.10,755.32 267.93,755.36 268.75,755.39 269.57,755.43 270.40,755.46 271.23,755.49 272.05,755.51 272.88,755.54 273.70,755.56 274.52,755.59 275.35,755.61 276.18,755.63 277.00,755.65 277.82,755.67 278.65,755.69 279.48,755.70 280.30,755.72 281.12,755.73 281.95,755.75 282.77,755.76 283.60,755.77 284.43,755.79 285.25,755.80 286.07,755.81 286.90,755.82 287.73,755.83 288.55,755.84 289.38,755.85 290.20,755.85 291.02,755.86 291.85,755.87 292.68,755.87 293.50,755.88 294.32,755.89 295.15,755.89 295.98,755.90 296.80,755.90 297.62,755.91 298.45,755.91 299.27,755.91 300.10,755.92" fill="none" stroke="#e01010" stroke-width="2.6" stroke-linejoin="round" />
<polyline points="52.60,756.70 53.01,756.11 53.43,757.16 53.84,756.17 54.25,756.75 54.66,756.71 55.08,755.59 55.49,756.39 55.90,756.43 56.31,755.98 56.73,755.72 57.14,756.22 57.55,755.84 57.96,756.54 58.38,756.16 58.79,756.12 59.20,756.48 59.61,756.49 60.02,756.47 60.44,755.71 60.85,755.60 61.26,755.61 61.67,755.35 62.09,755.98 62.50,755.29 62.91,755.08 63.33,754.78 63.74,755.52 64.15,755.26 64.56,756.03 64.97,755.25 65.39,756.07 65.80,755.67 66.21,754.41 66.62,756.05 67.04,754.57 67.45,754.81 67.86,755.15 68.28,754.79 68.69,754.79 69.10,754.57 69.51,755.25 69.92,755.47 70.34,755.53 70.75,755.78 71.16,755.37 71.58,755.80 71.99,754.95 72.40,756.48 72.81,756.17 73.22,756.17 73.64,756.81 74.05,754.90 74.46,757.11 74.88,756.13 75.29,756.32 75.70,755.31 76.11,757.18 76.53,755.73 76.94,756.68 77.35,756.45 77.76,756.75 78.17,756.15 78.59,757.07 79.00,756.58 79.41,756.39 79.83,755.68 80.24,757.79 80.65,755.85 81.06,756.14 81.47,756.84 81.89,756.44 82.30,756.80 82.71,755.73 83.12,756.41 83.54,756.58 83.95,756.54 84.36,756.48 84.78,756.41 85.19,756.69 85.60,755.17 86.01,757.07 86.42,757.83 86.84,756.03 87.25,755.97 87.66,755.63 88.08,755.83 88.49,755.72 88.90,755.40 89.31,755.00 89.72,755.62 90.14,755.50 90.55,754.27 90.96,754.89 91.38,755.57 91.79,753.86 92.20,754.56 92.61,755.18 93.03,755.41 93.44,754.63 93.85,755.14 94.26,755.21 94.67,755.29 95.09,754.88 95.50,754.05 95.91,754.80 96.32,755.30 96.74,754.24 97.15,754.55 97.56,754.17 97.97,754.01 98.39,754.71 98.80,754.73 99.21,754.71 99.62,755.29 100.04,754.44 100.45,754.13 100.86,754.78 101.28,755.03 101.69,755.10 102.10,755.42 102.51,755.49 102.92,755.35 103.34,755.62 103.75,755.48 104.16,756.11 104.57,755.21 104.99,755.41 105.40,756.06 105.81,756.68 106.22,755.59 106.64,755.08 107.05,756.03 107.46,755.93 107.88,756.00 108.29,755.42 108.70,756.21 109.11,755.27 109.53,755.91 109.94,755.29 110.35,755.72 110.76,755.83 111.17,756.42 111.59,755.99 112.00,755.73 112.41,755.23 112.82,755.37 113.24,755.78 113.65,755.16 114.06,754.79 114.47,755.27 114.89,755.32 115.30,755.21 115.71,754.51 116.12,754.54 116.54,755.16 116.95,754.41 117.36,754.71 117.78,754.73 118.19,753.63 118.60,753.72 119.01,754.36 119.43,753.84 119.84,753.52 120.25,753.96 120.66,753.59 121.07,753.08 121.49,754.18 121.90,753.02 122.31,752.70 122.72,752.71 123.14,753.52 123.55,752.59 123.96,753.08 124.38,752.27 124.79,752.15 125.20,752.25 125.61,752.64 126.03,752.46 126.44,751.65 126.85,752.42 127.26,751.63 127.68,751.52 128.09,751.80 128.50,750.36 128.91,751.39 129.32,750.23 129.74,752.15 130.15,752.10 130.56,750.33 130.97,750.31 131.39,750.56 131.80,750.20 132.21,750.85 132.62,749.93 133.04,749.80 133.45,749.04 133.86,748.10 134.28,748.07 134.69,747.44 135.10,747.44 135.51,746.73 135.92,745.83 136.34,745.34 136.75,743.83 137.16,744.09 137.57,741.85 137.99,742.35 138.40,740.35 138.81,740.20 139.22,737.88 139.64,737.44 140.05,736.05 140.46,734.56 140.88,733.86 141.29,732.62 141.70,731.61 142.11,728.44 142.53,727.79 142.94,726.08 143.35,724.11 143.76,721.39 144.17,721.48 144.59,718.72 145.00,717.26 145.41,715.01 145.82,714.39 146.24,711.93 146.65,709.58 147.06,707.52 147.47,705.85 147.89,705.47 148.30,703.50 148.71,702.14 149.12,701.42 149.54,700.22 149.95,698.01 150.36,697.27 150.78,696.60 151.19,695.22 151.60,695.76 152.01,694.60 152.42,694.61 152.84,694.60 153.25,694.60 153.66,695.36 154.07,696.24 154.49,697.44 154.90,698.08 155.31,700.90 155.72,702.15 156.14,704.41 156.55,707.09 156.96,708.82 157.38,712.00 157.79,713.41 158.20,716.80 158.61,719.04 159.03,721.00 159.44,723.06 159.85,725.25 160.26,727.40 160.67,729.99 161.09,732.29 161.50,733.36 161.91,735.18 162.32,737.37 162.74,737.87 163.15,739.58 163.56,741.36 163.97,741.76 164.39,743.62 164.80,744.27 165.21,744.42 165.62,746.08 166.04,745.90 166.45,747.12 166.86,746.54 167.28,747.67 167.69,747.56 168.10,748.68 168.51,748.35 168.92,747.91 169.34,748.31 169.75,749.58 170.16,748.32 170.57,748.41 170.99,749.10 171.40,748.24 171.81,749.49 172.22,749.01 172.64,748.40 173.05,748.28 173.46,748.26 173.88,749.40 174.29,749.68 174.70,748.55 175.11,749.39 175.53,748.68 175.94,749.17 176.35,747.94 176.76,747.98 177.17,748.02 177.59,748.21 178.00,748.11 178.41,748.20 178.82,747.78 179.24,747.77 179.65,747.59 180.06,747.96 180.47,746.74 180.89,747.47 181.30,746.86 181.71,746.84 182.12,747.88 182.54,748.24 182.95,746.74 183.36,747.52 183.77,747.27 184.19,747.42 184.60,747.22 185.01,747.87 185.42,747.34 185.84,747.53 186.25,747.32 186.66,748.50 187.07,746.97 187.49,747.25 187.90,748.32 188.31,747.88 188.72,747.56 189.14,747.33 189.55,747.71 189.96,747.09 190.38,747.84 190.79,748.43 191.20,748.35 191.61,747.74 192.02,748.49 192.44,747.86 192.85,747.86 193.26,748.17 193.67,748.04 194.09,748.72 194.50,748.72 194.91,749.10 195.32,749.19 195.74,749.74 196.15,749.31 196.56,749.63 196.97,749.88 197.39,749.16 197.80,749.06 198.21,749.50 198.62,748.70 199.04,748.95 199.45,748.93 199.86,749.77 200.27,750.23 200.69,749.23 201.10,749.36 201.51,749.16 201.92,749.31 202.34,748.88 202.75,749.63 203.16,749.14 203.57,749.89 203.99,750.56 204.40,749.60 204.81,748.60 205.22,750.13 205.64,748.76 206.05,749.55 206.46,749.37 206.88,749.10 207.29,748.96 207.70,749.50 208.11,748.91 208.52,748.70 208.94,748.45 209.35,749.19 209.76,748.00 210.17,747.78 210.59,747.48 211.00,749.29 211.41,748.50 211.82,749.47 212.24,748.32 212.65,748.20 213.06,749.01 213.47,749.19 213.89,748.28 214.30,748.03 214.71,748.70 215.12,748.41 215.54,749.50 215.95,748.57 216.36,748.11 216.77,748.07 217.19,747.32 217.60,748.63 218.01,749.13 218.42,747.74 218.84,748.20 219.25,747.70 219.66,747.41 220.07,747.39 220.49,746.88 220.90,746.82 221.31,748.20 221.72,747.28 222.14,746.12 222.55,747.16 222.96,746.31 223.37,746.64 223.79,746.62 224.20,745.42 224.61,745.46 225.02,745.85 225.44,745.02 225.85,745.84 226.26,745.26 226.67,744.15 227.09,744.25 227.50,744.46 227.91,743.36 228.32,743.06 228.74,742.21 229.15,741.99 229.56,742.20 229.97,741.90 230.39,741.32 230.80,740.95 231.21,739.69 231.62,739.21 232.04,738.91 232.45,738.97 232.86,738.87 233.27,737.89 233.69,738.12 234.10,737.44 234.51,738.01 234.92,737.04 235.34,735.78 235.75,736.68 236.16,736.61 236.57,735.68 236.99,734.53 237.40,734.42 237.81,735.13 238.22,735.03 238.64,734.72 239.05,735.04 239.46,734.50 239.87,734.65 240.29,735.30 240.70,735.01 241.11,735.09 241.52,735.71 241.94,736.24 242.35,735.71 242.76,735.76 243.17,737.44 243.59,738.16 244.00,738.40 244.41,739.49 244.82,740.53 245.24,740.23 245.65,742.23 246.06,742.88 246.47,743.64 246.89,744.55 247.30,745.01 247.71,745.38 248.12,745.70 248.54,746.80 248.95,747.81 249.36,749.11 249.77,749.16 250.19,750.20 250.60,750.35 251.01,750.35 251.42,751.23 251.84,751.90 252.25,752.60 252.66,752.64 253.07,752.94 253.49,753.79 253.90,753.89 254.31,753.48 254.72,755.00 255.14,754.62 255.55,755.19 255.96,754.03 256.38,754.66 256.79,754.85 257.20,755.04 257.61,755.20 258.02,755.30 258.44,756.31 258.85,755.46 259.26,755.35 259.68,756.39 260.09,755.31 260.50,755.40 260.91,756.50 261.32,755.98 261.74,755.89 262.15,755.98 262.56,755.51 262.98,756.31 263.39,755.75 263.80,755.49 264.21,755.20 264.62,755.48 265.04,755.58 265.45,755.06 265.86,756.33 266.27,754.83 266.69,755.39 267.10,755.80 267.51,755.33 267.93,755.97 268.34,756.02 268.75,755.12 269.16,755.29 269.57,754.50 269.99,755.26 270.40,755.43 270.81,755.23 271.23,753.88 271.64,754.69 272.05,754.99 272.46,755.17 272.88,755.22 273.29,754.76 273.70,754.47 274.11,754.13 274.52,754.15 274.94,754.61 275.35,755.11 275.76,755.25 276.18,756.01 276.59,755.42 277.00,754.77 277.41,755.20 277.82,754.92 278.24,755.84 278.65,754.80 279.06,755.18 279.48,755.38 279.89,755.29 280.30,756.67 280.71,755.93 281.12,756.18 281.54,754.92 281.95,755.99 282.36,756.23 282.77,755.64 283.19,756.66 283.60,755.51 284.01,756.64 284.43,756.38 284.84,756.87 285.25,756.07 285.66,757.60 286.07,756.23 286.49,757.02 286.90,756.62 287.31,757.24 287.73,756.58 288.14,756.62 288.55,756.42 288.96,756.56 289.38,756.40 289.79,756.21 290.20,756.87 290.61,757.24 291.02,757.25 291.44,756.24 291.85,756.72 292.26,755.97 292.68,756.41 293.09,756.88 293.50,755.87 293.91,755.29 294.32,756.27 294.74,756.57 295.15,756.45 295.56,755.52 295.98,756.18 296.39,756.01 296.80,755.40 297.21,755.66 297.62,755.54 298.04,755.80 298.45,755.78 298.86,755.32 299.27,755.26 299.69,754.99 300.10,755.48" fill="none" stroke="#000" stroke-width="1.5" stroke-linejoin="round" />
<text x="181.00" y="622.40" font-size="10.45" fill="#222"><tspan font-style="italic">T</tspan><tspan font-size="7.5" dx="-0.6" dy="2.5">m</tspan><tspan dy="-2.5">1</tspan> = 55.2 ± 0.04 (ACE2)</text>
<text x="181.00" y="641.00" font-size="10.45" fill="#222"><tspan font-style="italic">T</tspan><tspan font-size="7.5" dx="-0.6" dy="2.5">m</tspan><tspan dy="-2.5">2</tspan> = 65.8 ± 0.25 (C<tspan font-size="7.5" dy="2.5">H</tspan><tspan dy="-2.5">2)</tspan></text>
<text x="181.00" y="659.60" font-size="10.45" fill="#222"><tspan font-style="italic">T</tspan><tspan font-size="7.5" dx="-0.6" dy="2.5">m</tspan><tspan dy="-2.5">3</tspan> = 81.1 ± 0.02 (C<tspan font-size="7.5" dy="2.5">H</tspan><tspan dy="-2.5">3)</tspan></text>
<text x="355.00" y="562.60" font-size="16" font-weight="bold" text-anchor="start" fill="#000"  style="">f</text>
<text x="508.30" y="585.00" font-size="15" fill="#222" textLength="79.7" lengthAdjust="spacingAndGlyphs">mutACE2-Fc</text>
<line x1="418.40" y1="592.50" x2="418.40" y2="759.30" stroke="#000" stroke-width="1.8" />
<line x1="417.50" y1="758.40" x2="666.80" y2="758.40" stroke="#000" stroke-width="1.8" />
<line x1="411.80" y1="758.40" x2="418.40" y2="758.40" stroke="#000" stroke-width="1.8" />
<text x="408.80" y="762.70" font-size="12" font-weight="bold" text-anchor="end" fill="#000"  style="">0</text>
<line x1="411.80" y1="725.40" x2="418.40" y2="725.40" stroke="#000" stroke-width="1.8" />
<text x="408.80" y="729.70" font-size="12" font-weight="bold" text-anchor="end" fill="#000"  style="">30</text>
<line x1="411.80" y1="692.40" x2="418.40" y2="692.40" stroke="#000" stroke-width="1.8" />
<text x="408.80" y="696.70" font-size="12" font-weight="bold" text-anchor="end" fill="#000"  style="">60</text>
<line x1="411.80" y1="659.40" x2="418.40" y2="659.40" stroke="#000" stroke-width="1.8" />
<text x="408.80" y="663.70" font-size="12" font-weight="bold" text-anchor="end" fill="#000"  style="">90</text>
<line x1="411.80" y1="626.40" x2="418.40" y2="626.40" stroke="#000" stroke-width="1.8" />
<text x="408.80" y="630.70" font-size="12" font-weight="bold" text-anchor="end" fill="#000"  style="">120</text>
<line x1="411.80" y1="593.40" x2="418.40" y2="593.40" stroke="#000" stroke-width="1.8" />
<text x="408.80" y="597.70" font-size="12" font-weight="bold" text-anchor="end" fill="#000"  style="">150</text>
<line x1="434.90" y1="758.40" x2="434.90" y2="764.90" stroke="#000" stroke-width="1.8" />
<text x="434.90" y="779.80" font-size="12" font-weight="bold" text-anchor="middle" fill="#000"  style="">30</text>
<line x1="451.40" y1="758.40" x2="451.40" y2="761.90" stroke="#000" stroke-width="1.8" />
<line x1="467.90" y1="758.40" x2="467.90" y2="764.90" stroke="#000" stroke-width="1.8" />
<text x="467.90" y="779.80" font-size="12" font-weight="bold" text-anchor="middle" fill="#000"  style="">40</text>
<line x1="484.40" y1="758.40" x2="484.40" y2="761.90" stroke="#000" stroke-width="1.8" />
<line x1="500.90" y1="758.40" x2="500.90" y2="764.90" stroke="#000" stroke-width="1.8" />
<text x="500.90" y="779.80" font-size="12" font-weight="bold" text-anchor="middle" fill="#000"  style="">50</text>
<line x1="517.40" y1="758.40" x2="517.40" y2="761.90" stroke="#000" stroke-width="1.8" />
<line x1="533.90" y1="758.40" x2="533.90" y2="764.90" stroke="#000" stroke-width="1.8" />
<text x="533.90" y="779.80" font-size="12" font-weight="bold" text-anchor="middle" fill="#000"  style="">60</text>
<line x1="550.40" y1="758.40" x2="550.40" y2="761.90" stroke="#000" stroke-width="1.8" />
<line x1="566.90" y1="758.40" x2="566.90" y2="764.90" stroke="#000" stroke-width="1.8" />
<text x="566.90" y="779.80" font-size="12" font-weight="bold" text-anchor="middle" fill="#000"  style="">70</text>
<line x1="583.40" y1="758.40" x2="583.40" y2="761.90" stroke="#000" stroke-width="1.8" />
<line x1="599.90" y1="758.40" x2="599.90" y2="764.90" stroke="#000" stroke-width="1.8" />
<text x="599.90" y="779.80" font-size="12" font-weight="bold" text-anchor="middle" fill="#000"  style="">80</text>
<line x1="616.40" y1="758.40" x2="616.40" y2="761.90" stroke="#000" stroke-width="1.8" />
<line x1="632.90" y1="758.40" x2="632.90" y2="764.90" stroke="#000" stroke-width="1.8" />
<text x="632.90" y="779.80" font-size="12" font-weight="bold" text-anchor="middle" fill="#000"  style="">90</text>
<line x1="649.40" y1="758.40" x2="649.40" y2="761.90" stroke="#000" stroke-width="1.8" />
<line x1="665.90" y1="758.40" x2="665.90" y2="764.90" stroke="#000" stroke-width="1.8" />
<text x="665.90" y="779.80" font-size="12" font-weight="bold" text-anchor="middle" fill="#000"  style="">100</text>
<text x="542.40" y="798.00" font-size="13.4" font-weight="bold" text-anchor="middle" fill="#000"  style="">Temperature (°C)</text>
<text transform="translate(378.20,722.60) rotate(-90)" font-size="13.6" font-weight="bold" text-anchor="start">C<tspan font-size="10.2" dy="3.2">p</tspan><tspan dy="-3.2"> (kJ/mol/°C)</tspan></text>
<polyline points="418.40,758.14 419.22,758.13 420.05,758.13 420.88,758.12 421.70,758.12 422.52,758.11 423.35,758.10 424.17,758.10 425.00,758.09 425.82,758.09 426.65,758.08 427.47,758.07 428.30,758.06 429.12,758.06 429.95,758.05 430.77,758.04 431.60,758.03 432.42,758.03 433.25,758.02 434.07,758.01 434.90,758.00 435.72,757.99 436.55,757.98 437.38,757.97 438.20,757.96 439.02,757.95 439.85,757.94 440.67,757.92 441.50,757.91 442.32,757.90 443.15,757.89 443.97,757.87 444.80,757.86 445.62,757.84 446.45,757.83 447.27,757.81 448.10,757.79 448.92,757.78 449.75,757.76 450.57,757.74 451.40,757.72 452.22,757.70 453.05,757.68 453.88,757.65 454.70,757.63 455.52,757.60 456.35,757.57 457.17,757.54 458.00,757.51 458.82,757.48 459.65,757.44 460.47,757.40 461.30,757.36 462.12,757.31 462.95,757.26 463.77,757.20 464.60,757.13 465.42,757.05 466.25,756.96 467.07,756.86 467.90,756.74 468.72,756.60 469.55,756.43 470.38,756.23 471.20,756.00 472.02,755.73 472.85,755.41 473.67,755.03 474.50,754.59 475.32,754.07 476.15,753.46 476.97,752.76 477.80,751.95 478.62,751.01 479.45,749.94 480.27,748.71 481.10,747.33 481.92,745.78 482.75,744.04 483.57,742.10 484.40,739.97 485.22,737.64 486.05,735.10 486.88,732.35 487.70,729.41 488.52,726.29 489.35,723.00 490.17,719.55 491.00,715.98 491.82,712.32 492.65,708.60 493.47,704.86 494.30,701.14 495.12,697.50 495.95,693.98 496.77,690.63 497.60,687.52 498.42,684.70 499.25,682.22 500.07,680.13 500.90,678.47 501.72,677.29 502.55,676.62 503.38,676.47 504.20,677.09 505.02,678.59 505.85,680.90 506.67,683.92 507.50,687.56 508.32,691.69 509.15,696.19 509.97,700.94 510.80,705.81 511.62,710.71 512.45,715.53 513.27,720.20 514.10,724.65 514.92,728.83 515.75,732.69 516.57,736.21 517.40,739.38 518.22,742.20 519.05,744.68 519.88,746.84 520.70,748.69 521.52,750.26 522.35,751.59 523.17,752.69 524.00,753.61 524.82,754.36 525.65,754.97 526.47,755.46 527.30,755.86 528.12,756.18 528.95,756.44 529.77,756.65 530.60,756.82 531.42,756.96 532.25,757.08 533.07,757.17 533.90,757.25 534.72,757.32 535.55,757.38 536.38,757.44 537.20,757.49 538.02,757.53 538.85,757.57 539.67,757.60 540.50,757.64 541.32,757.67 542.15,757.70 542.97,757.73 543.80,757.75 544.62,757.78 545.45,757.80 546.27,757.82 547.10,757.84 547.92,757.86 548.75,757.88 549.57,757.90 550.40,757.91 551.22,757.93 552.05,757.95 552.88,757.96 553.70,757.97 554.52,757.99 555.35,758.00 556.17,758.01 557.00,758.02 557.82,758.03 558.65,758.04 559.47,758.05 560.30,758.06 561.12,758.07 561.95,758.08 562.77,758.09 563.60,758.10 564.42,758.11 565.25,758.11 566.07,758.12 566.90,758.13 567.72,758.14 568.55,758.14 569.38,758.15 570.20,758.15 571.02,758.16 571.85,758.17 572.67,758.17 573.50,758.18 574.32,758.18 575.15,758.19 575.97,758.19 576.80,758.20 577.62,758.20 578.45,758.20 579.27,758.21 580.10,758.21 580.92,758.22 581.75,758.22 582.57,758.22 583.40,758.23 584.22,758.23 585.05,758.23 585.88,758.24 586.70,758.24 587.52,758.24 588.35,758.25 589.17,758.25 590.00,758.25 590.82,758.26 591.65,758.26 592.47,758.26 593.30,758.26 594.12,758.27 594.95,758.27 595.77,758.27 596.60,758.27 597.42,758.27 598.25,758.28 599.07,758.28 599.90,758.28 600.72,758.28 601.55,758.28 602.38,758.29 603.20,758.29 604.02,758.29 604.85,758.29 605.67,758.29 606.50,758.30 607.32,758.30 608.15,758.30 608.97,758.30 609.80,758.30 610.62,758.30 611.45,758.30 612.27,758.31 613.10,758.31 613.92,758.31 614.75,758.31 615.57,758.31 616.40,758.31 617.22,758.31 618.05,758.32 618.88,758.32 619.70,758.32 620.52,758.32 621.35,758.32 622.17,758.32 623.00,758.32 623.82,758.32 624.65,758.32 625.47,758.33 626.30,758.33 627.12,758.33 627.95,758.33 628.77,758.33 629.60,758.33 630.42,758.33 631.25,758.33 632.07,758.33 632.90,758.33 633.72,758.33 634.55,758.34 635.38,758.34 636.20,758.34 637.02,758.34 637.85,758.34 638.67,758.34 639.50,758.34 640.32,758.34 641.15,758.34 641.97,758.34 642.80,758.34 643.62,758.34 644.45,758.34 645.27,758.34 646.10,758.35 646.92,758.35 647.75,758.35 648.57,758.35 649.40,758.35 650.22,758.35 651.05,758.35 651.88,758.35 652.70,758.35 653.52,758.35 654.35,758.35 655.17,758.35 656.00,758.35 656.82,758.35 657.65,758.35 658.47,758.35 659.30,758.35 660.12,758.35 660.95,758.35 661.77,758.36 662.60,758.36 663.42,758.36 664.25,758.36 665.07,758.36 665.90,758.36" fill="none" stroke="#b8b8b8" stroke-width="1.8" stroke-linejoin="round" />
<polyline points="418.40,758.40 419.22,758.40 420.05,758.40 420.88,758.40 421.70,758.40 422.52,758.40 423.35,758.40 424.17,758.40 425.00,758.40 425.82,758.40 426.65,758.40 427.47,758.40 428.30,758.40 429.12,758.40 429.95,758.40 430.77,758.40 431.60,758.40 432.42,758.40 433.25,758.40 434.07,758.40 434.90,758.40 435.72,758.40 436.55,758.40 437.38,758.40 438.20,758.40 439.02,758.40 439.85,758.40 440.67,758.40 441.50,758.40 442.32,758.40 443.15,758.40 443.97,758.40 444.80,758.40 445.62,758.40 446.45,758.40 447.27,758.40 448.10,758.40 448.92,758.40 449.75,758.39 450.57,758.39 451.40,758.39 452.22,758.39 453.05,758.39 453.88,758.39 454.70,758.39 455.52,758.38 456.35,758.38 457.17,758.38 458.00,758.38 458.82,758.37 459.65,758.37 460.47,758.36 461.30,758.36 462.12,758.35 462.95,758.35 463.77,758.34 464.60,758.33 465.42,758.32 466.25,758.31 467.07,758.30 467.90,758.29 468.72,758.27 469.55,758.26 470.38,758.24 471.20,758.22 472.02,758.20 472.85,758.17 473.67,758.14 474.50,758.11 475.32,758.08 476.15,758.04 476.97,758.00 477.80,757.96 478.62,757.91 479.45,757.86 480.27,757.80 481.10,757.74 481.92,757.68 482.75,757.60 483.57,757.52 484.40,757.44 485.22,757.35 486.05,757.25 486.88,757.14 487.70,757.03 488.52,756.91 489.35,756.78 490.17,756.64 491.00,756.49 491.82,756.33 492.65,756.17 493.47,755.99 494.30,755.80 495.12,755.61 495.95,755.40 496.77,755.18 497.60,754.95 498.42,754.71 499.25,754.47 500.07,754.21 500.90,753.93 501.72,753.65 502.55,753.36 503.38,753.06 504.20,752.75 505.02,752.43 505.85,752.10 506.67,751.77 507.50,751.42 508.32,751.07 509.15,750.71 509.97,750.35 510.80,749.99 511.62,749.61 512.45,749.24 513.27,748.87 514.10,748.49 514.92,748.12 515.75,747.75 516.57,747.38 517.40,747.01 518.22,746.65 519.05,746.30 519.88,745.96 520.70,745.62 521.52,745.30 522.35,744.99 523.17,744.69 524.00,744.40 524.82,744.13 525.65,743.88 526.47,743.65 527.30,743.43 528.12,743.23 528.95,743.06 529.77,742.90 530.60,742.77 531.42,742.66 532.25,742.57 533.07,742.51 533.90,742.47 534.72,742.45 535.55,742.46 536.38,742.50 537.20,742.56 538.02,742.65 538.85,742.77 539.67,742.92 540.50,743.09 541.32,743.29 542.15,743.51 542.97,743.75 543.80,744.01 544.62,744.30 545.45,744.60 546.27,744.92 547.10,745.26 547.92,745.61 548.75,745.97 549.57,746.35 550.40,746.73 551.22,747.12 552.05,747.52 552.88,747.92 553.70,748.33 554.52,748.73 555.35,749.14 556.17,749.54 557.00,749.95 557.82,750.35 558.65,750.74 559.47,751.13 560.30,751.50 561.12,751.88 561.95,752.24 562.77,752.59 563.60,752.93 564.42,753.26 565.25,753.58 566.07,753.89 566.90,754.19 567.72,754.47 568.55,754.74 569.38,755.00 570.20,755.24 571.02,755.47 571.85,755.69 572.67,755.90 573.50,756.10 574.32,756.28 575.15,756.46 575.97,756.62 576.80,756.77 577.62,756.91 578.45,757.04 579.27,757.17 580.10,757.28 580.92,757.38 581.75,757.48 582.57,757.57 583.40,757.65 584.22,757.72 585.05,757.79 585.88,757.85 586.70,757.91 587.52,757.96 588.35,758.01 589.17,758.05 590.00,758.09 590.82,758.13 591.65,758.16 592.47,758.19 593.30,758.21 594.12,758.23 594.95,758.25 595.77,758.27 596.60,758.29 597.42,758.30 598.25,758.31 599.07,758.32 599.90,758.33 600.72,758.34 601.55,758.35 602.38,758.36 603.20,758.36 604.02,758.37 604.85,758.37 605.67,758.38 606.50,758.38 607.32,758.38 608.15,758.39 608.97,758.39 609.80,758.39 610.62,758.39 611.45,758.39 612.27,758.39 613.10,758.39 613.92,758.40 614.75,758.40 615.57,758.40 616.40,758.40 617.22,758.40 618.05,758.40 618.88,758.40 619.70,758.40 620.52,758.40 621.35,758.40 622.17,758.40 623.00,758.40 623.82,758.40 624.65,758.40 625.47,758.40 626.30,758.40 627.12,758.40 627.95,758.40 628.77,758.40 629.60,758.40 630.42,758.40 631.25,758.40 632.07,758.40 632.90,758.40 633.72,758.40 634.55,758.40 635.38,758.40 636.20,758.40 637.02,758.40 637.85,758.40 638.67,758.40 639.50,758.40 640.32,758.40 641.15,758.40 641.97,758.40 642.80,758.40 643.62,758.40 644.45,758.40 645.27,758.40 646.10,758.40 646.92,758.40 647.75,758.40 648.57,758.40 649.40,758.40 650.22,758.40 651.05,758.40 651.88,758.40 652.70,758.40 653.52,758.40 654.35,758.40 655.17,758.40 656.00,758.40 656.82,758.40 657.65,758.40 658.47,758.40 659.30,758.40 660.12,758.40 660.95,758.40 661.77,758.40 662.60,758.40 663.42,758.40 664.25,758.40 665.07,758.40 665.90,758.40" fill="none" stroke="#b8b8b8" stroke-width="1.8" stroke-linejoin="round" />
<polyline points="418.40,758.39 419.22,758.39 420.05,758.39 420.88,758.39 421.70,758.39 422.52,758.39 423.35,758.39 424.17,758.39 425.00,758.39 425.82,758.39 426.65,758.39 427.47,758.39 428.30,758.39 429.12,758.39 429.95,758.39 430.77,758.39 431.60,758.39 432.42,758.39 433.25,758.38 434.07,758.38 434.90,758.38 435.72,758.38 436.55,758.38 437.38,758.38 438.20,758.38 439.02,758.38 439.85,758.38 440.67,758.38 441.50,758.38 442.32,758.38 443.15,758.38 443.97,758.38 444.80,758.38 445.62,758.38 446.45,758.38 447.27,758.38 448.10,758.38 448.92,758.38 449.75,758.38 450.57,758.38 451.40,758.38 452.22,758.38 453.05,758.38 453.88,758.38 454.70,758.38 455.52,758.38 456.35,758.38 457.17,758.38 458.00,758.38 458.82,758.38 459.65,758.38 460.47,758.38 461.30,758.38 462.12,758.38 462.95,758.38 463.77,758.38 464.60,758.38 465.42,758.38 466.25,758.38 467.07,758.38 467.90,758.38 468.72,758.38 469.55,758.38 470.38,758.38 471.20,758.37 472.02,758.37 472.85,758.37 473.67,758.37 474.50,758.37 475.32,758.37 476.15,758.37 476.97,758.37 477.80,758.37 478.62,758.37 479.45,758.37 480.27,758.37 481.10,758.37 481.92,758.37 482.75,758.37 483.57,758.37 484.40,758.37 485.22,758.37 486.05,758.37 486.88,758.37 487.70,758.37 488.52,758.37 489.35,758.37 490.17,758.37 491.00,758.37 491.82,758.36 492.65,758.36 493.47,758.36 494.30,758.36 495.12,758.36 495.95,758.36 496.77,758.36 497.60,758.36 498.42,758.36 499.25,758.36 500.07,758.36 500.90,758.36 501.72,758.36 502.55,758.36 503.38,758.36 504.20,758.36 505.02,758.35 505.85,758.35 506.67,758.35 507.50,758.35 508.32,758.35 509.15,758.35 509.97,758.35 510.80,758.35 511.62,758.35 512.45,758.35 513.27,758.35 514.10,758.35 514.92,758.34 515.75,758.34 516.57,758.34 517.40,758.34 518.22,758.34 519.05,758.34 519.88,758.34 520.70,758.34 521.52,758.33 522.35,758.33 523.17,758.33 524.00,758.33 524.82,758.33 525.65,758.33 526.47,758.33 527.30,758.32 528.12,758.32 528.95,758.32 529.77,758.32 530.60,758.32 531.42,758.32 532.25,758.31 533.07,758.31 533.90,758.31 534.72,758.31 535.55,758.31 536.38,758.30 537.20,758.30 538.02,758.30 538.85,758.30 539.67,758.29 540.50,758.29 541.32,758.29 542.15,758.28 542.97,758.28 543.80,758.28 544.62,758.28 545.45,758.27 546.27,758.27 547.10,758.26 547.92,758.26 548.75,758.26 549.57,758.25 550.40,758.25 551.22,758.24 552.05,758.24 552.88,758.23 553.70,758.22 554.52,758.22 555.35,758.21 556.17,758.20 557.00,758.19 557.82,758.18 558.65,758.17 559.47,758.15 560.30,758.13 561.12,758.12 561.95,758.09 562.77,758.07 563.60,758.04 564.42,758.00 565.25,757.96 566.07,757.91 566.90,757.85 567.72,757.78 568.55,757.70 569.38,757.60 570.20,757.49 571.02,757.37 571.85,757.22 572.67,757.05 573.50,756.86 574.32,756.63 575.15,756.38 575.97,756.10 576.80,755.77 577.62,755.42 578.45,755.02 579.27,754.57 580.10,754.08 580.92,753.55 581.75,752.97 582.57,752.34 583.40,751.67 584.22,750.95 585.05,750.18 585.88,749.38 586.70,748.54 587.52,747.66 588.35,746.76 589.17,745.84 590.00,744.90 590.82,743.96 591.65,743.03 592.47,742.11 593.30,741.21 594.12,740.35 594.95,739.53 595.77,738.77 596.60,738.08 597.42,737.46 598.25,736.94 599.07,736.51 599.90,736.18 600.72,735.96 601.55,735.86 602.38,735.90 603.20,736.20 604.02,736.77 604.85,737.58 605.67,738.59 606.50,739.78 607.32,741.09 608.15,742.49 608.97,743.94 609.80,745.40 610.62,746.84 611.45,748.23 612.27,749.54 613.10,750.77 613.92,751.88 614.75,752.89 615.57,753.78 616.40,754.56 617.22,755.23 618.05,755.80 618.88,756.28 619.70,756.68 620.52,757.01 621.35,757.27 622.17,757.48 623.00,757.65 623.82,757.78 624.65,757.88 625.47,757.96 626.30,758.02 627.12,758.07 627.95,758.11 628.77,758.14 629.60,758.16 630.42,758.18 631.25,758.20 632.07,758.21 632.90,758.22 633.72,758.23 634.55,758.24 635.38,758.25 636.20,758.26 637.02,758.26 637.85,758.27 638.67,758.27 639.50,758.28 640.32,758.29 641.15,758.29 641.97,758.29 642.80,758.30 643.62,758.30 644.45,758.31 645.27,758.31 646.10,758.31 646.92,758.32 647.75,758.32 648.57,758.32 649.40,758.32 650.22,758.33 651.05,758.33 651.88,758.33 652.70,758.33 653.52,758.33 654.35,758.34 655.17,758.34 656.00,758.34 656.82,758.34 657.65,758.34 658.47,758.35 659.30,758.35 660.12,758.35 660.95,758.35 661.77,758.35 662.60,758.35 663.42,758.35 664.25,758.35 665.07,758.36 665.90,758.36" fill="none" stroke="#b8b8b8" stroke-width="1.8" stroke-linejoin="round" />
<polyline points="418.40,758.12 419.22,758.12 420.05,758.11 420.88,758.11 421.70,758.10 422.52,758.10 423.35,758.09 424.17,758.08 425.00,758.08 425.82,758.07 426.65,758.06 427.47,758.06 428.30,758.05 429.12,758.04 429.95,758.04 430.77,758.03 431.60,758.02 432.42,758.01 433.25,758.00 434.07,757.99 434.90,757.98 435.72,757.97 436.55,757.96 437.38,757.95 438.20,757.94 439.02,757.93 439.85,757.92 440.67,757.91 441.50,757.89 442.32,757.88 443.15,757.87 443.97,757.85 444.80,757.84 445.62,757.82 446.45,757.81 447.27,757.79 448.10,757.77 448.92,757.75 449.75,757.73 450.57,757.71 451.40,757.69 452.22,757.67 453.05,757.65 453.88,757.62 454.70,757.59 455.52,757.57 456.35,757.54 457.17,757.50 458.00,757.47 458.82,757.43 459.65,757.39 460.47,757.35 461.30,757.30 462.12,757.24 462.95,757.18 463.77,757.11 464.60,757.04 465.42,756.95 466.25,756.85 467.07,756.73 467.90,756.60 468.72,756.44 469.55,756.26 470.38,756.05 471.20,755.80 472.02,755.50 472.85,755.15 473.67,754.75 474.50,754.28 475.32,753.72 476.15,753.08 476.97,752.34 477.80,751.48 478.62,750.49 479.45,749.37 480.27,748.09 481.10,746.64 481.92,745.02 482.75,743.21 483.57,741.20 484.40,738.98 485.22,736.55 486.05,733.91 486.88,731.06 487.70,728.01 488.52,724.76 489.35,721.34 490.17,717.76 491.00,714.04 491.82,710.22 492.65,706.33 493.47,702.41 494.30,698.51 495.12,694.67 495.95,690.94 496.77,687.38 497.60,684.04 498.42,680.97 499.25,678.24 500.07,675.89 500.90,673.97 501.72,672.50 502.55,671.54 503.38,671.09 504.20,671.40 505.02,672.58 505.85,674.55 506.67,677.24 507.50,680.54 508.32,684.32 509.15,688.46 509.97,692.84 510.80,697.34 511.62,701.87 512.45,706.32 513.27,710.62 514.10,714.69 514.92,718.49 515.75,721.98 516.57,725.13 517.40,727.94 518.22,730.40 519.05,732.52 519.88,734.33 520.70,735.85 521.52,737.10 522.35,738.11 523.17,738.91 524.00,739.54 524.82,740.02 525.65,740.38 526.47,740.64 527.30,740.82 528.12,740.94 528.95,741.02 529.77,741.08 530.60,741.11 531.42,741.14 532.25,741.16 533.07,741.19 533.90,741.23 534.72,741.28 535.55,741.35 536.38,741.44 537.20,741.55 538.02,741.68 538.85,741.84 539.67,742.02 540.50,742.22 541.32,742.44 542.15,742.69 542.97,742.96 543.80,743.24 544.62,743.55 545.45,743.87 546.27,744.21 547.10,744.56 547.92,744.93 548.75,745.31 549.57,745.70 550.40,746.09 551.22,746.49 552.05,746.90 552.88,747.31 553.70,747.72 554.52,748.14 555.35,748.55 556.17,748.96 557.00,749.36 557.82,749.76 558.65,750.15 559.47,750.53 560.30,750.90 561.12,751.26 561.95,751.61 562.77,751.95 563.60,752.27 564.42,752.57 565.25,752.85 566.07,753.12 566.90,753.36 567.72,753.58 568.55,753.78 569.38,753.95 570.20,754.09 571.02,754.20 571.85,754.28 572.67,754.32 573.50,754.33 574.32,754.30 575.15,754.22 575.97,754.11 576.80,753.94 577.62,753.73 578.45,753.46 579.27,753.15 580.10,752.78 580.92,752.35 581.75,751.87 582.57,751.34 583.40,750.75 584.22,750.10 585.05,749.41 585.88,748.67 586.70,747.89 587.52,747.07 588.35,746.22 589.17,745.34 590.00,744.45 590.82,743.54 591.65,742.64 592.47,741.75 593.30,740.88 594.12,740.04 594.95,739.25 595.77,738.51 596.60,737.84 597.42,737.24 598.25,736.73 599.07,736.31 599.90,736.00 600.72,735.79 601.55,735.69 602.38,735.74 603.20,736.06 604.02,736.63 604.85,737.44 605.67,738.46 606.50,739.65 607.32,740.97 608.15,742.38 608.97,743.83 609.80,745.29 610.62,746.74 611.45,748.13 612.27,749.44 613.10,750.67 613.92,751.79 614.75,752.80 615.57,753.69 616.40,754.47 617.22,755.15 618.05,755.72 618.88,756.20 619.70,756.60 620.52,756.92 621.35,757.19 622.17,757.40 623.00,757.57 623.82,757.70 624.65,757.80 625.47,757.89 626.30,757.95 627.12,758.00 627.95,758.04 628.77,758.07 629.60,758.09 630.42,758.11 631.25,758.13 632.07,758.14 632.90,758.16 633.72,758.17 634.55,758.18 635.38,758.19 636.20,758.19 637.02,758.20 637.85,758.21 638.67,758.21 639.50,758.22 640.32,758.23 641.15,758.23 641.97,758.24 642.80,758.24 643.62,758.24 644.45,758.25 645.27,758.25 646.10,758.26 646.92,758.26 647.75,758.26 648.57,758.27 649.40,758.27 650.22,758.27 651.05,758.28 651.88,758.28 652.70,758.28 653.52,758.29 654.35,758.29 655.17,758.29 656.00,758.29 656.82,758.29 657.65,758.30 658.47,758.30 659.30,758.30 660.12,758.30 660.95,758.30 661.77,758.31 662.60,758.31 663.42,758.31 664.25,758.31 665.07,758.31 665.90,758.31" fill="none" stroke="#e01010" stroke-width="2.6" stroke-linejoin="round" />
<polyline points="418.40,759.57 418.81,759.53 419.22,758.60 419.64,760.03 420.05,758.92 420.46,759.92 420.88,758.21 421.29,758.60 421.70,757.96 422.11,758.82 422.52,758.30 422.94,758.57 423.35,758.72 423.76,758.20 424.17,758.82 424.59,758.29 425.00,757.69 425.41,757.93 425.82,758.08 426.24,756.71 426.65,757.69 427.06,757.94 427.47,757.50 427.89,757.77 428.30,757.64 428.71,757.57 429.12,756.34 429.54,757.28 429.95,757.16 430.36,756.88 430.77,756.19 431.19,757.27 431.60,757.45 432.01,755.91 432.42,757.85 432.84,757.32 433.25,756.82 433.66,756.03 434.07,757.65 434.49,758.41 434.90,756.92 435.31,757.55 435.72,757.52 436.14,757.15 436.55,757.33 436.96,757.35 437.38,757.77 437.79,756.98 438.20,756.94 438.61,757.74 439.02,758.05 439.44,757.54 439.85,757.73 440.26,758.56 440.67,758.34 441.09,757.66 441.50,758.29 441.91,758.47 442.32,758.26 442.74,758.44 443.15,758.47 443.56,759.48 443.97,757.70 444.39,758.50 444.80,759.06 445.21,758.17 445.62,758.51 446.04,758.67 446.45,758.16 446.86,757.56 447.27,758.39 447.69,757.87 448.10,757.56 448.51,759.10 448.92,758.82 449.34,758.13 449.75,759.31 450.16,758.54 450.57,757.71 450.99,757.77 451.40,757.93 451.81,759.08 452.22,756.90 452.64,757.70 453.05,757.51 453.46,757.56 453.88,758.57 454.29,758.34 454.70,758.14 455.11,756.50 455.52,757.77 455.94,757.39 456.35,757.31 456.76,756.81 457.17,756.76 457.59,756.80 458.00,757.48 458.41,758.34 458.82,756.64 459.24,756.52 459.65,755.99 460.06,756.60 460.47,756.80 460.89,756.26 461.30,757.19 461.71,756.91 462.12,756.86 462.54,756.20 462.95,755.29 463.36,755.94 463.77,755.75 464.19,756.19 464.60,756.17 465.01,756.54 465.42,756.46 465.84,757.53 466.25,756.93 466.66,756.98 467.07,755.94 467.49,756.03 467.90,755.80 468.31,755.59 468.72,756.51 469.14,755.82 469.55,755.36 469.96,756.31 470.38,755.73 470.79,756.30 471.20,756.96 471.61,756.03 472.02,756.40 472.44,755.84 472.85,756.00 473.26,755.47 473.67,756.52 474.09,754.25 474.50,754.40 474.91,755.01 475.32,755.02 475.74,754.28 476.15,753.62 476.56,753.39 476.97,753.02 477.39,753.77 477.80,752.89 478.21,751.17 478.62,751.18 479.04,751.47 479.45,750.52 479.86,750.14 480.27,749.22 480.69,747.37 481.10,747.26 481.51,745.74 481.92,745.30 482.34,745.20 482.75,743.76 483.16,741.24 483.57,741.66 483.99,740.65 484.40,738.29 484.81,737.60 485.22,736.33 485.64,734.22 486.05,734.43 486.46,731.87 486.88,731.09 487.29,729.71 487.70,727.80 488.11,725.16 488.52,724.11 488.94,723.24 489.35,721.10 489.76,717.97 490.17,716.39 490.59,715.60 491.00,711.94 491.41,711.44 491.82,709.95 492.24,707.48 492.65,705.01 493.06,702.73 493.47,701.09 493.89,699.91 494.30,698.07 494.71,696.64 495.12,694.08 495.54,692.52 495.95,690.31 496.36,689.34 496.77,687.27 497.19,685.82 497.60,684.42 498.01,682.92 498.42,681.42 498.84,680.17 499.25,678.03 499.66,677.12 500.07,676.79 500.49,674.92 500.90,674.20 501.31,672.88 501.72,673.11 502.14,672.63 502.55,672.51 502.96,671.86 503.38,671.56 503.79,671.81 504.20,672.33 504.61,672.43 505.02,673.38 505.44,674.21 505.85,675.90 506.26,676.59 506.67,678.62 507.09,680.11 507.50,681.30 507.91,682.13 508.32,684.61 508.74,687.10 509.15,689.26 509.56,690.79 509.97,692.75 510.39,695.02 510.80,697.94 511.21,699.95 511.62,702.40 512.04,704.55 512.45,706.97 512.86,708.76 513.27,711.77 513.69,713.28 514.10,714.39 514.51,716.93 514.92,717.98 515.34,720.62 515.75,721.78 516.16,722.94 516.57,725.14 516.99,726.36 517.40,726.05 517.81,728.87 518.22,730.03 518.64,731.02 519.05,731.70 519.46,732.65 519.88,732.98 520.29,733.86 520.70,735.17 521.11,735.80 521.52,736.94 521.94,737.52 522.35,737.64 522.76,737.34 523.17,738.06 523.59,738.09 524.00,738.35 524.41,739.22 524.82,738.35 525.24,739.92 525.65,740.20 526.06,740.31 526.47,739.70 526.89,740.52 527.30,740.98 527.71,740.53 528.12,740.31 528.54,741.06 528.95,741.25 529.36,740.68 529.77,740.83 530.19,740.94 530.60,741.89 531.01,741.44 531.42,741.48 531.84,742.64 532.25,741.19 532.66,741.81 533.07,742.10 533.49,740.84 533.90,741.96 534.31,742.45 534.72,742.17 535.14,741.90 535.55,741.82 535.96,742.30 536.38,742.75 536.79,742.70 537.20,742.80 537.61,742.96 538.02,742.48 538.44,742.75 538.85,742.52 539.26,743.00 539.67,743.06 540.09,742.75 540.50,742.88 540.91,742.16 541.32,743.25 541.74,742.74 542.15,742.91 542.56,743.61 542.97,742.64 543.39,742.99 543.80,744.20 544.21,742.91 544.62,742.82 545.04,743.78 545.45,742.62 545.86,743.50 546.27,744.27 546.69,743.51 547.10,744.10 547.51,744.73 547.92,745.28 548.34,744.22 548.75,744.87 549.16,744.34 549.57,744.64 549.99,745.28 550.40,745.48 550.81,744.52 551.22,744.76 551.64,745.46 552.05,746.24 552.46,746.79 552.88,746.72 553.29,745.93 553.70,746.79 554.11,747.42 554.52,748.16 554.94,747.72 555.35,748.51 555.76,748.33 556.17,748.24 556.59,748.35 557.00,749.09 557.41,749.61 557.82,749.60 558.24,749.08 558.65,750.07 559.06,751.23 559.47,750.01 559.89,750.93 560.30,749.55 560.71,751.79 561.12,751.85 561.54,752.18 561.95,752.07 562.36,752.77 562.77,753.43 563.19,753.86 563.60,753.14 564.01,753.52 564.42,753.72 564.84,752.52 565.25,753.33 565.66,753.32 566.07,754.24 566.49,753.95 566.90,754.31 567.31,754.39 567.72,753.99 568.14,754.12 568.55,754.32 568.96,754.44 569.38,755.27 569.79,754.93 570.20,754.37 570.61,754.74 571.02,754.93 571.44,754.33 571.85,754.93 572.26,754.76 572.67,753.92 573.09,754.47 573.50,753.49 573.91,753.86 574.32,753.62 574.74,753.36 575.15,754.90 575.56,753.73 575.97,754.22 576.39,753.66 576.80,753.34 577.21,752.51 577.62,753.00 578.04,751.99 578.45,752.91 578.86,752.50 579.27,752.24 579.69,751.62 580.10,751.92 580.51,752.00 580.92,751.64 581.34,751.96 581.75,750.40 582.16,750.42 582.57,750.34 582.99,750.17 583.40,750.36 583.81,749.99 584.22,749.11 584.64,749.63 585.05,749.34 585.46,747.86 585.88,747.56 586.29,747.88 586.70,747.44 587.11,747.29 587.52,746.33 587.94,746.92 588.35,746.30 588.76,745.74 589.17,744.89 589.59,745.37 590.00,744.75 590.41,744.72 590.82,744.42 591.24,744.02 591.65,743.26 592.06,742.46 592.47,742.85 592.89,742.40 593.30,741.90 593.71,741.13 594.12,740.56 594.54,741.14 594.95,739.95 595.36,740.25 595.77,739.03 596.19,739.50 596.60,739.21 597.01,738.69 597.42,738.04 597.84,738.20 598.25,737.31 598.66,737.07 599.07,736.85 599.49,736.53 599.90,736.02 600.31,736.63 600.72,736.11 601.14,735.99 601.55,736.89 601.96,735.59 602.38,736.15 602.79,736.17 603.20,736.15 603.61,736.05 604.02,736.18 604.44,736.41 604.85,737.37 605.26,737.10 605.67,737.71 606.09,738.63 606.50,739.00 606.91,739.19 607.32,740.00 607.74,740.53 608.15,741.50 608.56,741.69 608.97,741.86 609.39,743.46 609.80,745.21 610.21,744.29 610.62,746.15 611.04,747.27 611.45,748.47 611.86,747.78 612.27,748.13 612.69,748.84 613.10,750.17 613.51,749.89 613.92,751.25 614.34,752.08 614.75,752.31 615.16,752.77 615.57,753.35 615.99,753.66 616.40,755.39 616.81,753.95 617.22,755.41 617.64,755.18 618.05,756.25 618.46,756.10 618.88,756.57 619.29,757.55 619.70,756.84 620.11,756.95 620.52,758.03 620.94,758.71 621.35,758.17 621.76,758.43 622.17,758.10 622.59,758.29 623.00,757.59 623.41,758.16 623.82,758.69 624.24,758.55 624.65,760.11 625.06,759.17 625.47,759.21 625.89,758.83 626.30,758.62 626.71,758.67 627.12,758.30 627.54,759.09 627.95,758.57 628.36,758.75 628.77,758.63 629.19,758.43 629.60,758.68 630.01,758.38 630.42,758.44 630.84,757.85 631.25,758.35 631.66,758.07 632.07,756.87 632.49,757.77 632.90,757.76 633.31,757.41 633.72,758.37 634.14,757.45 634.55,757.37 634.96,757.46 635.38,757.14 635.79,757.18 636.20,756.93 636.61,757.80 637.02,757.23 637.44,757.68 637.85,756.77 638.26,757.29 638.67,757.99 639.09,757.29 639.50,757.84 639.91,756.86 640.32,757.53 640.74,758.46 641.15,757.59 641.56,756.93 641.97,757.31 642.39,757.83 642.80,757.25 643.21,757.34 643.62,756.95 644.04,757.30 644.45,757.63 644.86,758.27 645.27,757.81 645.69,757.88 646.10,758.10 646.51,757.98 646.92,758.85 647.34,758.06 647.75,758.41 648.16,758.32 648.57,758.62 648.99,758.79 649.40,758.59 649.81,758.39 650.22,759.00 650.64,758.74 651.05,759.33 651.46,758.80 651.88,759.03 652.29,759.71 652.70,758.54 653.11,759.57 653.52,759.11 653.94,759.81 654.35,760.02 654.76,758.84 655.17,759.85 655.59,760.16 656.00,759.22 656.41,759.85 656.82,759.15 657.24,758.11 657.65,759.16 658.06,758.74 658.47,758.58 658.89,758.68 659.30,758.79 659.71,757.93 660.12,758.64 660.54,758.35 660.95,758.39 661.36,759.00 661.77,758.14 662.19,758.19 662.60,757.83 663.01,757.73 663.42,757.23 663.84,758.86 664.25,758.14 664.66,758.03 665.07,758.16 665.49,757.48 665.90,757.67" fill="none" stroke="#000" stroke-width="1.5" stroke-linejoin="round" />
<text x="548.60" y="624.40" font-size="10.45" fill="#222"><tspan font-style="italic">T</tspan><tspan font-size="7.5" dx="-0.6" dy="2.5">m</tspan><tspan dy="-2.5">1</tspan> = 50.5 ± 0.01 (ACE2)</text>
<text x="548.60" y="643.00" font-size="10.45" fill="#222"><tspan font-style="italic">T</tspan><tspan font-size="7.5" dx="-0.6" dy="2.5">m</tspan><tspan dy="-2.5">2</tspan> = 60.9 ± 0.03 (C<tspan font-size="7.5" dy="2.5">H</tspan><tspan dy="-2.5">2)</tspan></text>
<text x="548.60" y="661.60" font-size="10.45" fill="#222"><tspan font-style="italic">T</tspan><tspan font-size="7.5" dx="-0.6" dy="2.5">m</tspan><tspan dy="-2.5">3</tspan> = 80.4 ± 0.03 (C<tspan font-size="7.5" dy="2.5">H</tspan><tspan dy="-2.5">3)</tspan></text>
</svg>
</body></html>
